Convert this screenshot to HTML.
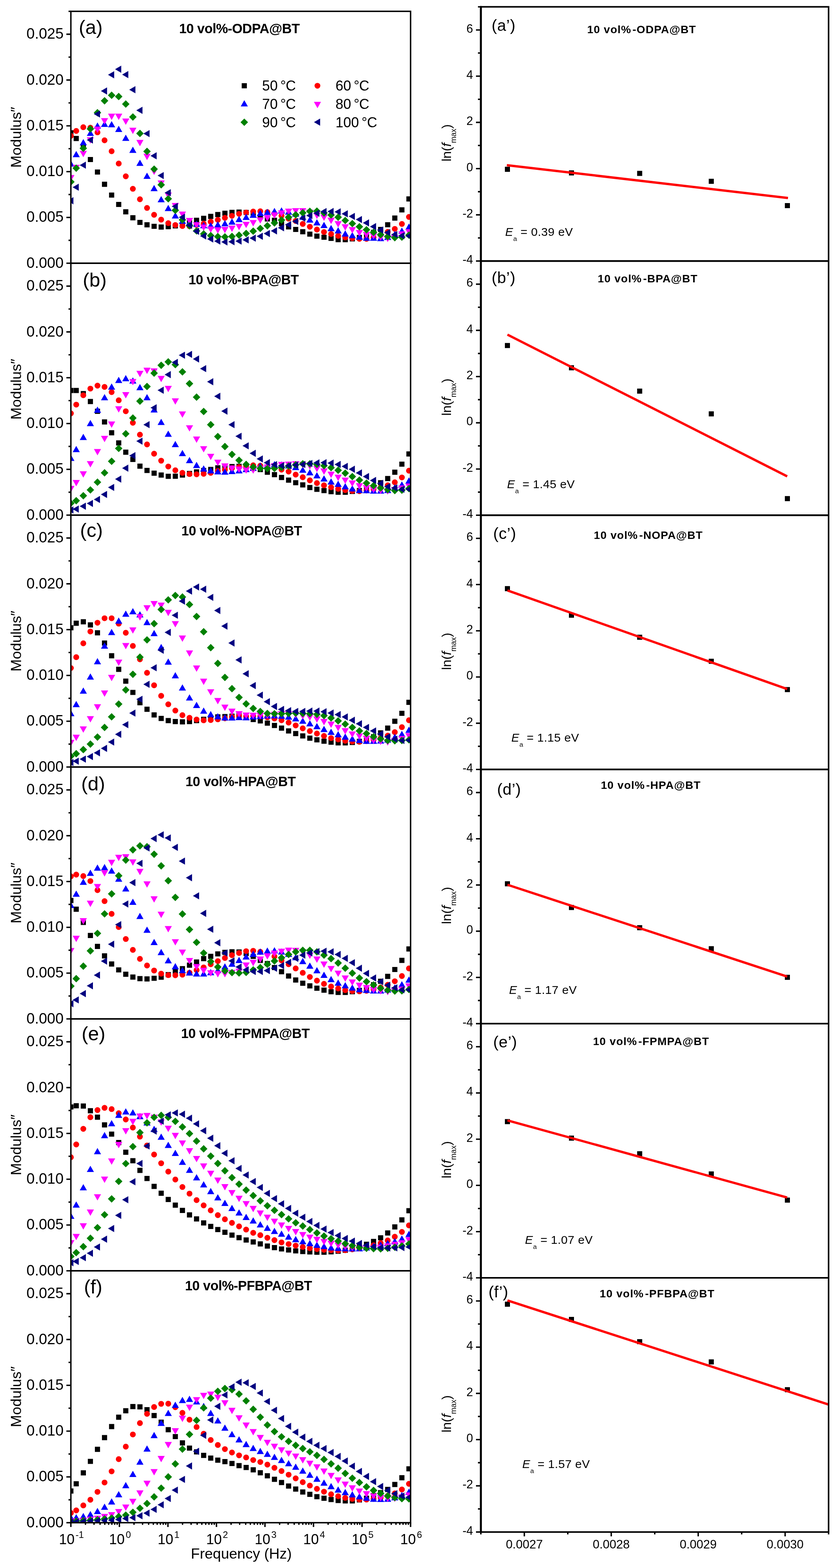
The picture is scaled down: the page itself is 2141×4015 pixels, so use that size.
<!DOCTYPE html>
<html><head><meta charset="utf-8"><style>html,body{margin:0;padding:0;background:#fff;}</style></head>
<body><svg width="2141" height="4015" viewBox="0 0 2141 4015" style="display:block;font-family:'Liberation Sans',Arial,sans-serif">
<rect x="0" y="0" width="2141" height="4015" fill="#fff"/>
<path d="M170.0,674.0H181.5M175.5,615.4H181.5M170.0,556.7H181.5M175.5,498.1H181.5M170.0,439.5H181.5M175.5,380.8H181.5M170.0,322.2H181.5M175.5,263.5H181.5M170.0,204.9H181.5M175.5,146.3H181.5M170.0,87.6H181.5M175.5,29.0H181.5M175.5,29.0H181.5M170.0,1319.0H181.5M175.5,1260.4H181.5M170.0,1201.7H181.5M175.5,1143.1H181.5M170.0,1084.5H181.5M175.5,1025.8H181.5M170.0,967.2H181.5M175.5,908.5H181.5M170.0,849.9H181.5M175.5,791.3H181.5M170.0,732.6H181.5M175.5,674.0H181.5M175.5,674.0H181.5M170.0,1964.0H181.5M175.5,1905.4H181.5M170.0,1846.7H181.5M175.5,1788.1H181.5M170.0,1729.5H181.5M175.5,1670.8H181.5M170.0,1612.2H181.5M175.5,1553.5H181.5M170.0,1494.9H181.5M175.5,1436.3H181.5M170.0,1377.6H181.5M175.5,1319.0H181.5M175.5,1319.0H181.5M170.0,2609.0H181.5M175.5,2550.4H181.5M170.0,2491.7H181.5M175.5,2433.1H181.5M170.0,2374.5H181.5M175.5,2315.8H181.5M170.0,2257.2H181.5M175.5,2198.5H181.5M170.0,2139.9H181.5M175.5,2081.3H181.5M170.0,2022.6H181.5M175.5,1964.0H181.5M175.5,1964.0H181.5M170.0,3254.0H181.5M175.5,3195.4H181.5M170.0,3136.7H181.5M175.5,3078.1H181.5M170.0,3019.5H181.5M175.5,2960.8H181.5M170.0,2902.2H181.5M175.5,2843.5H181.5M170.0,2784.9H181.5M175.5,2726.3H181.5M170.0,2667.6H181.5M175.5,2609.0H181.5M175.5,2609.0H181.5M170.0,3899.0H181.5M175.5,3840.4H181.5M170.0,3781.7H181.5M175.5,3723.1H181.5M170.0,3664.5H181.5M175.5,3605.8H181.5M170.0,3547.2H181.5M175.5,3488.5H181.5M170.0,3429.9H181.5M175.5,3371.3H181.5M170.0,3312.6H181.5M175.5,3254.0H181.5M175.5,3254.0H181.5M181.5,3899.0V3910.0M218.9,3899.0V3904.5M240.8,3899.0V3904.5M256.3,3899.0V3904.5M268.4,3899.0V3904.5M278.2,3899.0V3904.5M286.5,3899.0V3904.5M293.7,3899.0V3904.5M300.1,3899.0V3904.5M305.8,3899.0V3910.0M343.2,3899.0V3904.5M365.1,3899.0V3904.5M380.6,3899.0V3904.5M392.7,3899.0V3904.5M402.5,3899.0V3904.5M410.8,3899.0V3904.5M418.0,3899.0V3904.5M424.4,3899.0V3904.5M430.1,3899.0V3910.0M467.5,3899.0V3904.5M489.4,3899.0V3904.5M504.9,3899.0V3904.5M516.9,3899.0V3904.5M526.8,3899.0V3904.5M535.1,3899.0V3904.5M542.3,3899.0V3904.5M548.7,3899.0V3904.5M554.4,3899.0V3910.0M591.8,3899.0V3904.5M613.7,3899.0V3904.5M629.2,3899.0V3904.5M641.2,3899.0V3904.5M651.1,3899.0V3904.5M659.4,3899.0V3904.5M666.6,3899.0V3904.5M673.0,3899.0V3904.5M678.6,3899.0V3910.0M716.1,3899.0V3904.5M737.9,3899.0V3904.5M753.5,3899.0V3904.5M765.5,3899.0V3904.5M775.4,3899.0V3904.5M783.7,3899.0V3904.5M790.9,3899.0V3904.5M797.2,3899.0V3904.5M802.9,3899.0V3910.0M840.3,3899.0V3904.5M862.2,3899.0V3904.5M877.8,3899.0V3904.5M889.8,3899.0V3904.5M899.6,3899.0V3904.5M908.0,3899.0V3904.5M915.2,3899.0V3904.5M921.5,3899.0V3904.5M927.2,3899.0V3910.0M964.6,3899.0V3904.5M986.5,3899.0V3904.5M1002.0,3899.0V3904.5M1014.1,3899.0V3904.5M1023.9,3899.0V3904.5M1032.2,3899.0V3904.5M1039.5,3899.0V3904.5M1045.8,3899.0V3904.5M1051.5,3899.0V3910.0" stroke="#000" stroke-width="3.6" fill="none"/>
<path d="M1219.0,668.4H1231.5M1224.0,609.2H1231.5M1219.0,550.1H1231.5M1224.0,490.9H1231.5M1219.0,431.7H1231.5M1224.0,372.5H1231.5M1219.0,313.4H1231.5M1224.0,254.2H1231.5M1219.0,195.0H1231.5M1224.0,135.8H1231.5M1219.0,76.7H1231.5M1224.0,17.5H1231.5M1219.0,1319.3H1231.5M1224.0,1260.1H1231.5M1219.0,1201.0H1231.5M1224.0,1141.8H1231.5M1219.0,1082.6H1231.5M1224.0,1023.4H1231.5M1219.0,964.3H1231.5M1224.0,905.1H1231.5M1219.0,845.9H1231.5M1224.0,786.7H1231.5M1219.0,727.6H1231.5M1224.0,668.4H1231.5M1219.0,1970.2H1231.5M1224.0,1911.0H1231.5M1219.0,1851.9H1231.5M1224.0,1792.7H1231.5M1219.0,1733.5H1231.5M1224.0,1674.3H1231.5M1219.0,1615.2H1231.5M1224.0,1556.0H1231.5M1219.0,1496.8H1231.5M1224.0,1437.6H1231.5M1219.0,1378.5H1231.5M1224.0,1319.3H1231.5M1219.0,2621.1H1231.5M1224.0,2561.9H1231.5M1219.0,2502.8H1231.5M1224.0,2443.6H1231.5M1219.0,2384.4H1231.5M1224.0,2325.2H1231.5M1219.0,2266.1H1231.5M1224.0,2206.9H1231.5M1219.0,2147.7H1231.5M1224.0,2088.5H1231.5M1219.0,2029.4H1231.5M1224.0,1970.2H1231.5M1219.0,3272.0H1231.5M1224.0,3212.8H1231.5M1219.0,3153.7H1231.5M1224.0,3094.5H1231.5M1219.0,3035.3H1231.5M1224.0,2976.1H1231.5M1219.0,2917.0H1231.5M1224.0,2857.8H1231.5M1219.0,2798.6H1231.5M1224.0,2739.4H1231.5M1219.0,2680.3H1231.5M1224.0,2621.1H1231.5M1219.0,3922.9H1231.5M1224.0,3863.7H1231.5M1219.0,3804.6H1231.5M1224.0,3745.4H1231.5M1219.0,3686.2H1231.5M1224.0,3627.0H1231.5M1219.0,3567.9H1231.5M1224.0,3508.7H1231.5M1219.0,3449.5H1231.5M1224.0,3390.3H1231.5M1219.0,3331.2H1231.5M1224.0,3272.0H1231.5M1231.5,3922.9V3928.9M1342.8,3922.9V3933.9M1454.1,3922.9V3928.9M1565.4,3922.9V3933.9M1676.8,3922.9V3928.9M1788.1,3922.9V3933.9M1899.4,3922.9V3928.9M2010.7,3922.9V3933.9M2122.0,3922.9V3928.9" stroke="#000" stroke-width="3.6" fill="none"/>
<text x="67.8" y="685.7" font-size="38" text-anchor="start" font-weight="normal" >0.000</text>
<text x="67.8" y="568.4" font-size="38" text-anchor="start" font-weight="normal" >0.005</text>
<text x="67.8" y="451.2" font-size="38" text-anchor="start" font-weight="normal" >0.010</text>
<text x="67.8" y="333.9" font-size="38" text-anchor="start" font-weight="normal" >0.015</text>
<text x="67.8" y="216.6" font-size="38" text-anchor="start" font-weight="normal" >0.020</text>
<text x="67.8" y="99.3" font-size="38" text-anchor="start" font-weight="normal" >0.025</text>
<text x="67.8" y="1330.7" font-size="38" text-anchor="start" font-weight="normal" >0.000</text>
<text x="67.8" y="1213.4" font-size="38" text-anchor="start" font-weight="normal" >0.005</text>
<text x="67.8" y="1096.2" font-size="38" text-anchor="start" font-weight="normal" >0.010</text>
<text x="67.8" y="978.9" font-size="38" text-anchor="start" font-weight="normal" >0.015</text>
<text x="67.8" y="861.6" font-size="38" text-anchor="start" font-weight="normal" >0.020</text>
<text x="67.8" y="744.3" font-size="38" text-anchor="start" font-weight="normal" >0.025</text>
<text x="67.8" y="1975.7" font-size="38" text-anchor="start" font-weight="normal" >0.000</text>
<text x="67.8" y="1858.4" font-size="38" text-anchor="start" font-weight="normal" >0.005</text>
<text x="67.8" y="1741.2" font-size="38" text-anchor="start" font-weight="normal" >0.010</text>
<text x="67.8" y="1623.9" font-size="38" text-anchor="start" font-weight="normal" >0.015</text>
<text x="67.8" y="1506.6" font-size="38" text-anchor="start" font-weight="normal" >0.020</text>
<text x="67.8" y="1389.3" font-size="38" text-anchor="start" font-weight="normal" >0.025</text>
<text x="67.8" y="2620.7" font-size="38" text-anchor="start" font-weight="normal" >0.000</text>
<text x="67.8" y="2503.4" font-size="38" text-anchor="start" font-weight="normal" >0.005</text>
<text x="67.8" y="2386.2" font-size="38" text-anchor="start" font-weight="normal" >0.010</text>
<text x="67.8" y="2268.9" font-size="38" text-anchor="start" font-weight="normal" >0.015</text>
<text x="67.8" y="2151.6" font-size="38" text-anchor="start" font-weight="normal" >0.020</text>
<text x="67.8" y="2034.3" font-size="38" text-anchor="start" font-weight="normal" >0.025</text>
<text x="67.8" y="3265.7" font-size="38" text-anchor="start" font-weight="normal" >0.000</text>
<text x="67.8" y="3148.4" font-size="38" text-anchor="start" font-weight="normal" >0.005</text>
<text x="67.8" y="3031.2" font-size="38" text-anchor="start" font-weight="normal" >0.010</text>
<text x="67.8" y="2913.9" font-size="38" text-anchor="start" font-weight="normal" >0.015</text>
<text x="67.8" y="2796.6" font-size="38" text-anchor="start" font-weight="normal" >0.020</text>
<text x="67.8" y="2679.3" font-size="38" text-anchor="start" font-weight="normal" >0.025</text>
<text x="67.8" y="3910.7" font-size="38" text-anchor="start" font-weight="normal" >0.000</text>
<text x="67.8" y="3793.4" font-size="38" text-anchor="start" font-weight="normal" >0.005</text>
<text x="67.8" y="3676.2" font-size="38" text-anchor="start" font-weight="normal" >0.010</text>
<text x="67.8" y="3558.9" font-size="38" text-anchor="start" font-weight="normal" >0.015</text>
<text x="67.8" y="3441.6" font-size="38" text-anchor="start" font-weight="normal" >0.020</text>
<text x="67.8" y="3324.3" font-size="38" text-anchor="start" font-weight="normal" >0.025</text>
<text x="183.0" y="3954" font-size="36" text-anchor="middle">10<tspan font-size="24" dx="2.5" dy="-16">-1</tspan></text>
<text x="307.3" y="3954" font-size="36" text-anchor="middle">10<tspan font-size="24" dx="2.5" dy="-16">0</tspan></text>
<text x="431.6" y="3954" font-size="36" text-anchor="middle">10<tspan font-size="24" dx="2.5" dy="-16">1</tspan></text>
<text x="555.9" y="3954" font-size="36" text-anchor="middle">10<tspan font-size="24" dx="2.5" dy="-16">2</tspan></text>
<text x="680.1" y="3954" font-size="36" text-anchor="middle">10<tspan font-size="24" dx="2.5" dy="-16">3</tspan></text>
<text x="804.4" y="3954" font-size="36" text-anchor="middle">10<tspan font-size="24" dx="2.5" dy="-16">4</tspan></text>
<text x="928.7" y="3954" font-size="36" text-anchor="middle">10<tspan font-size="24" dx="2.5" dy="-16">5</tspan></text>
<text x="1053.0" y="3954" font-size="36" text-anchor="middle">10<tspan font-size="24" dx="2.5" dy="-16">6</tspan></text>
<text x="488.8" y="3991.0" font-size="37.5" text-anchor="start" font-weight="normal" >Frequency (Hz)</text>
<text x="1211.5" y="675.2" font-size="30.5" text-anchor="end" font-weight="normal" >-4</text>
<text x="1211.5" y="556.9" font-size="30.5" text-anchor="end" font-weight="normal" >-2</text>
<text x="1211.5" y="438.5" font-size="30.5" text-anchor="end" font-weight="normal" >0</text>
<text x="1211.5" y="320.2" font-size="30.5" text-anchor="end" font-weight="normal" >2</text>
<text x="1211.5" y="201.8" font-size="30.5" text-anchor="end" font-weight="normal" >4</text>
<text x="1211.5" y="83.5" font-size="30.5" text-anchor="end" font-weight="normal" >6</text>
<text x="1211.5" y="1326.1" font-size="30.5" text-anchor="end" font-weight="normal" >-4</text>
<text x="1211.5" y="1207.8" font-size="30.5" text-anchor="end" font-weight="normal" >-2</text>
<text x="1211.5" y="1089.4" font-size="30.5" text-anchor="end" font-weight="normal" >0</text>
<text x="1211.5" y="971.1" font-size="30.5" text-anchor="end" font-weight="normal" >2</text>
<text x="1211.5" y="852.7" font-size="30.5" text-anchor="end" font-weight="normal" >4</text>
<text x="1211.5" y="734.4" font-size="30.5" text-anchor="end" font-weight="normal" >6</text>
<text x="1211.5" y="1977.0" font-size="30.5" text-anchor="end" font-weight="normal" >-4</text>
<text x="1211.5" y="1858.7" font-size="30.5" text-anchor="end" font-weight="normal" >-2</text>
<text x="1211.5" y="1740.3" font-size="30.5" text-anchor="end" font-weight="normal" >0</text>
<text x="1211.5" y="1622.0" font-size="30.5" text-anchor="end" font-weight="normal" >2</text>
<text x="1211.5" y="1503.6" font-size="30.5" text-anchor="end" font-weight="normal" >4</text>
<text x="1211.5" y="1385.3" font-size="30.5" text-anchor="end" font-weight="normal" >6</text>
<text x="1211.5" y="2627.9" font-size="30.5" text-anchor="end" font-weight="normal" >-4</text>
<text x="1211.5" y="2509.6" font-size="30.5" text-anchor="end" font-weight="normal" >-2</text>
<text x="1211.5" y="2391.2" font-size="30.5" text-anchor="end" font-weight="normal" >0</text>
<text x="1211.5" y="2272.9" font-size="30.5" text-anchor="end" font-weight="normal" >2</text>
<text x="1211.5" y="2154.5" font-size="30.5" text-anchor="end" font-weight="normal" >4</text>
<text x="1211.5" y="2036.2" font-size="30.5" text-anchor="end" font-weight="normal" >6</text>
<text x="1211.5" y="3278.8" font-size="30.5" text-anchor="end" font-weight="normal" >-4</text>
<text x="1211.5" y="3160.5" font-size="30.5" text-anchor="end" font-weight="normal" >-2</text>
<text x="1211.5" y="3042.1" font-size="30.5" text-anchor="end" font-weight="normal" >0</text>
<text x="1211.5" y="2923.8" font-size="30.5" text-anchor="end" font-weight="normal" >2</text>
<text x="1211.5" y="2805.4" font-size="30.5" text-anchor="end" font-weight="normal" >4</text>
<text x="1211.5" y="2687.1" font-size="30.5" text-anchor="end" font-weight="normal" >6</text>
<text x="1211.5" y="3929.7" font-size="30.5" text-anchor="end" font-weight="normal" >-4</text>
<text x="1211.5" y="3811.4" font-size="30.5" text-anchor="end" font-weight="normal" >-2</text>
<text x="1211.5" y="3693.0" font-size="30.5" text-anchor="end" font-weight="normal" >0</text>
<text x="1211.5" y="3574.7" font-size="30.5" text-anchor="end" font-weight="normal" >2</text>
<text x="1211.5" y="3456.3" font-size="30.5" text-anchor="end" font-weight="normal" >4</text>
<text x="1211.5" y="3338.0" font-size="30.5" text-anchor="end" font-weight="normal" >6</text>
<text x="1342.8" y="3965.0" font-size="31" text-anchor="middle" font-weight="normal" >0.0027</text>
<text x="1565.4" y="3965.0" font-size="31" text-anchor="middle" font-weight="normal" >0.0028</text>
<text x="1788.1" y="3965.0" font-size="31" text-anchor="middle" font-weight="normal" >0.0029</text>
<text x="2010.7" y="3965.0" font-size="31" text-anchor="middle" font-weight="normal" >0.0030</text>
<text x="201.8" y="86.9" font-size="50" text-anchor="start" font-weight="normal" >(a)</text>
<text x="212.0" y="733.9" font-size="50" text-anchor="start" font-weight="normal" >(b)</text>
<text x="205.0" y="1374.8" font-size="50" text-anchor="start" font-weight="normal" >(c)</text>
<text x="208.0" y="2023.9" font-size="50" text-anchor="start" font-weight="normal" >(d)</text>
<text x="208.9" y="2663.9" font-size="50" text-anchor="start" font-weight="normal" >(e)</text>
<text x="214.9" y="3311.8" font-size="50" text-anchor="start" font-weight="normal" >(f)</text>
<text x="458.7" y="84.9" font-size="34.5" font-weight="bold" letter-spacing="-0.55">10 vol%-ODPA@BT</text>
<text x="482.7" y="727.9" font-size="34.5" font-weight="bold" letter-spacing="-0.55">10 vol%-BPA@BT</text>
<text x="464.6" y="1370.9" font-size="34.5" font-weight="bold" letter-spacing="-0.55">10 vol%-NOPA@BT</text>
<text x="474.9" y="2012.9" font-size="34.5" font-weight="bold" letter-spacing="-0.55">10 vol%-HPA@BT</text>
<text x="463.7" y="2658" font-size="34.5" font-weight="bold" letter-spacing="-0.55">10 vol%-FPMPA@BT</text>
<text x="473.7" y="3304" font-size="34.5" font-weight="bold" letter-spacing="-0.55">10 vol%-PFBPA@BT</text>
<text transform="translate(54,351.5) rotate(-90)" font-size="37.7" text-anchor="middle">Modulus&#8243;</text>
<text transform="translate(54,996.5) rotate(-90)" font-size="37.7" text-anchor="middle">Modulus&#8243;</text>
<text transform="translate(54,1641.5) rotate(-90)" font-size="37.7" text-anchor="middle">Modulus&#8243;</text>
<text transform="translate(54,2286.5) rotate(-90)" font-size="37.7" text-anchor="middle">Modulus&#8243;</text>
<text transform="translate(54,2931.5) rotate(-90)" font-size="37.7" text-anchor="middle">Modulus&#8243;</text>
<text transform="translate(54,3576.5) rotate(-90)" font-size="37.7" text-anchor="middle">Modulus&#8243;</text>
<path fill="#000000" d="M619.0,213.0h13.2v13.2h-13.2z"/>
<text x="671.3" y="231.5" font-size="36" text-anchor="start" font-weight="normal" >50 <tspan dx="-3.3">&#176;</tspan><tspan dx="-0.6">C</tspan></text>
<path fill="#ff0000" d="M805.5,219.6a7.45,7.45 0 1,0 14.9,0a7.45,7.45 0 1,0 -14.9,0z"/>
<text x="859.3" y="231.5" font-size="36" text-anchor="start" font-weight="normal" >60 <tspan dx="-3.3">&#176;</tspan><tspan dx="-0.6">C</tspan></text>
<path fill="#0000ff" d="M625.6,256.4L634.8,272.4H616.5z"/>
<text x="671.3" y="278.5" font-size="36" text-anchor="start" font-weight="normal" >70 <tspan dx="-3.3">&#176;</tspan><tspan dx="-0.6">C</tspan></text>
<path fill="#ff00ff" d="M813.0,276.9L822.1,260.7H803.9z"/>
<text x="859.3" y="278.5" font-size="36" text-anchor="start" font-weight="normal" >80 <tspan dx="-3.3">&#176;</tspan><tspan dx="-0.6">C</tspan></text>
<path fill="#008000" d="M625.6,303.4L635.2,313.0L625.6,322.6L616.0,313.0z"/>
<text x="671.3" y="325.5" font-size="36" text-anchor="start" font-weight="normal" >90 <tspan dx="-3.3">&#176;</tspan><tspan dx="-0.6">C</tspan></text>
<path fill="#000080" d="M804.1,312.8L819.9,303.6V322.0z"/>
<text x="859.3" y="325.5" font-size="36" text-anchor="start" font-weight="normal" >100 <tspan dx="-3.3">&#176;</tspan><tspan dx="-0.6">C</tspan></text>
<text x="1258.9" y="78.9" font-size="41" letter-spacing="0.6">(a&#8217;)</text>
<text x="1258.9" y="724.9" font-size="41" letter-spacing="0.6">(b&#8217;)</text>
<text x="1263" y="1379.9" font-size="41" letter-spacing="0.6">(c&#8217;)</text>
<text x="1273" y="2034.8" font-size="41" letter-spacing="0.6">(d&#8217;)</text>
<text x="1263" y="2681.8" font-size="41" letter-spacing="0.6">(e&#8217;)</text>
<text x="1251" y="3321.8" font-size="41" letter-spacing="0.6">(f&#8217;)</text>
<text x="1503.7" y="84.5" font-size="28.3" font-weight="bold" letter-spacing="1.1">10 vol%<tspan dx="3">-ODPA@BT</tspan></text>
<text x="1530.8" y="722.9" font-size="28.3" font-weight="bold" letter-spacing="1.1">10 vol%<tspan dx="3">-BPA@BT</tspan></text>
<text x="1520.8" y="1380" font-size="28.3" font-weight="bold" letter-spacing="1.1">10 vol%<tspan dx="3">-NOPA@BT</tspan></text>
<text x="1538.7" y="2020" font-size="28.3" font-weight="bold" letter-spacing="1.1">10 vol%<tspan dx="3">-HPA@BT</tspan></text>
<text x="1518.7" y="2675.9" font-size="28.3" font-weight="bold" letter-spacing="1.1">10 vol%<tspan dx="3">-FPMPA@BT</tspan></text>
<text x="1535.8" y="3322" font-size="28.3" font-weight="bold" letter-spacing="1.1">10 vol%<tspan dx="3">-PFBPA@BT</tspan></text>
<text x="1293.8" y="603.8" font-size="30.3" letter-spacing="0.4"><tspan font-style="italic">E</tspan><tspan font-size="17" dy="13">a</tspan><tspan dy="-13"> = 0.39 eV</tspan></text>
<text x="1298.6" y="1249.8" font-size="30.3" letter-spacing="0.4"><tspan font-style="italic">E</tspan><tspan font-size="17" dy="13">a</tspan><tspan dy="-13"> = 1.45 eV</tspan></text>
<text x="1309.6" y="1898.8" font-size="30.3" letter-spacing="0.4"><tspan font-style="italic">E</tspan><tspan font-size="17" dy="13">a</tspan><tspan dy="-13"> = 1.15 eV</tspan></text>
<text x="1303.8" y="2544.6" font-size="30.3" letter-spacing="0.4"><tspan font-style="italic">E</tspan><tspan font-size="17" dy="13">a</tspan><tspan dy="-13"> = 1.17 eV</tspan></text>
<text x="1344.6" y="3184.8" font-size="30.3" letter-spacing="0.4"><tspan font-style="italic">E</tspan><tspan font-size="17" dy="13">a</tspan><tspan dy="-13"> = 1.07 eV</tspan></text>
<text x="1337.4" y="3758.8" font-size="30.3" letter-spacing="0.4"><tspan font-style="italic">E</tspan><tspan font-size="17" dy="13">a</tspan><tspan dy="-13"> = 1.57 eV</tspan></text>
<text transform="translate(1154.5,365.9) rotate(-90)" font-size="34" text-anchor="middle">ln(<tspan font-style="italic">f</tspan><tspan font-size="19.5" dy="13">max</tspan><tspan dy="-13">)</tspan></text>
<text transform="translate(1154.5,1016.8) rotate(-90)" font-size="34" text-anchor="middle">ln(<tspan font-style="italic">f</tspan><tspan font-size="19.5" dy="13">max</tspan><tspan dy="-13">)</tspan></text>
<text transform="translate(1154.5,1667.8) rotate(-90)" font-size="34" text-anchor="middle">ln(<tspan font-style="italic">f</tspan><tspan font-size="19.5" dy="13">max</tspan><tspan dy="-13">)</tspan></text>
<text transform="translate(1154.5,2318.6) rotate(-90)" font-size="34" text-anchor="middle">ln(<tspan font-style="italic">f</tspan><tspan font-size="19.5" dy="13">max</tspan><tspan dy="-13">)</tspan></text>
<text transform="translate(1154.5,2969.5) rotate(-90)" font-size="34" text-anchor="middle">ln(<tspan font-style="italic">f</tspan><tspan font-size="19.5" dy="13">max</tspan><tspan dy="-13">)</tspan></text>
<text transform="translate(1154.5,3620.4) rotate(-90)" font-size="34" text-anchor="middle">ln(<tspan font-style="italic">f</tspan><tspan font-size="19.5" dy="13">max</tspan><tspan dy="-13">)</tspan></text>
<path fill="#000" d="M1293.0,426.9h13v13h-13zM1457.0,436.3h13v13h-13zM1631.7,437.6h13v13h-13zM1815.1,457.7h13v13h-13zM2010.0,519.9h13v13h-13zM1293.0,878.3h13v13h-13zM1457.0,935.3h13v13h-13zM1631.7,994.9h13v13h-13zM1815.1,1053.2h13v13h-13zM2010.0,1270.2h13v13h-13zM1293.0,1500.8h13v13h-13zM1457.0,1568.8h13v13h-13zM1631.7,1625.2h13v13h-13zM1815.1,1686.7h13v13h-13zM2010.0,1759.2h13v13h-13zM1293.0,2256.4h13v13h-13zM1457.0,2317.3h13v13h-13zM1631.7,2369.1h13v13h-13zM1815.1,2422.8h13v13h-13zM2010.0,2496.0h13v13h-13zM1293.0,2865.5h13v13h-13zM1457.0,2907.7h13v13h-13zM1631.7,2947.8h13v13h-13zM1815.1,2999.6h13v13h-13zM2010.0,3066.4h13v13h-13zM1293.0,3333.1h13v13h-13zM1457.0,3372.0h13v13h-13zM1631.7,3429.0h13v13h-13zM1815.1,3480.8h13v13h-13zM2010.0,3552.0h13v13h-13z"/>
<line x1="1298" y1="423" x2="2018" y2="507" stroke="#ff0000" stroke-width="6"/>
<line x1="1299.6" y1="856.9" x2="2016" y2="1219.7" stroke="#ff0000" stroke-width="6"/>
<line x1="1299.6" y1="1511.8" x2="2016" y2="1764.4" stroke="#ff0000" stroke-width="6"/>
<line x1="1299.6" y1="2265.5" x2="2016" y2="2500.6" stroke="#ff0000" stroke-width="6"/>
<line x1="1299.6" y1="2868.8" x2="2016" y2="3066.4" stroke="#ff0000" stroke-width="6"/>
<line x1="1299.6" y1="3329.9" x2="2121" y2="3596.1" stroke="#ff0000" stroke-width="6"/>
<defs>
<clipPath id="cl0"><rect x="181.5" y="29.0" width="870.0" height="645.0"/></clipPath>
<clipPath id="cl1"><rect x="181.5" y="674.0" width="870.0" height="645.0"/></clipPath>
<clipPath id="cl2"><rect x="181.5" y="1319.0" width="870.0" height="645.0"/></clipPath>
<clipPath id="cl3"><rect x="181.5" y="1964.0" width="870.0" height="645.0"/></clipPath>
<clipPath id="cl4"><rect x="181.5" y="2609.0" width="870.0" height="645.0"/></clipPath>
<clipPath id="cl5"><rect x="181.5" y="3254.0" width="870.0" height="645.0"/></clipPath>
</defs>
<g clip-path="url(#cl0)">
<path fill="#000000" d="M174.9,333.4h13.2v13.2h-13.2zM188.6,348.0h13.2v13.2h-13.2zM206.8,368.3h13.2v13.2h-13.2zM224.9,401.9h13.2v13.2h-13.2zM243.0,433.9h13.2v13.2h-13.2zM261.1,465.2h13.2v13.2h-13.2zM279.3,492.9h13.2v13.2h-13.2zM297.4,516.9h13.2v13.2h-13.2zM315.5,535.7h13.2v13.2h-13.2zM333.7,551.1h13.2v13.2h-13.2zM351.8,562.9h13.2v13.2h-13.2zM369.9,569.1h13.2v13.2h-13.2zM388.1,572.9h13.2v13.2h-13.2zM406.2,574.7h13.2v13.2h-13.2zM424.3,573.9h13.2v13.2h-13.2zM442.4,571.9h13.2v13.2h-13.2zM460.6,569.4h13.2v13.2h-13.2zM478.7,563.9h13.2v13.2h-13.2zM496.8,557.4h13.2v13.2h-13.2zM515.0,552.6h13.2v13.2h-13.2zM533.1,547.5h13.2v13.2h-13.2zM551.2,542.7h13.2v13.2h-13.2zM569.4,539.4h13.2v13.2h-13.2zM587.5,537.3h13.2v13.2h-13.2zM605.6,536.6h13.2v13.2h-13.2zM623.8,537.4h13.2v13.2h-13.2zM641.9,542.4h13.2v13.2h-13.2zM660.0,548.7h13.2v13.2h-13.2zM678.1,554.0h13.2v13.2h-13.2zM696.3,557.4h13.2v13.2h-13.2zM714.4,566.4h13.2v13.2h-13.2zM732.5,574.4h13.2v13.2h-13.2zM750.7,580.9h13.2v13.2h-13.2zM768.8,586.8h13.2v13.2h-13.2zM786.9,592.9h13.2v13.2h-13.2zM805.0,598.0h13.2v13.2h-13.2zM823.2,600.9h13.2v13.2h-13.2zM841.3,603.8h13.2v13.2h-13.2zM859.4,607.1h13.2v13.2h-13.2zM877.6,607.1h13.2v13.2h-13.2zM895.7,605.0h13.2v13.2h-13.2zM913.8,601.4h13.2v13.2h-13.2zM932.0,596.4h13.2v13.2h-13.2zM950.1,588.4h13.2v13.2h-13.2zM968.2,580.9h13.2v13.2h-13.2zM986.3,568.9h13.2v13.2h-13.2zM1004.5,551.8h13.2v13.2h-13.2zM1022.6,530.7h13.2v13.2h-13.2zM1040.7,502.8h13.2v13.2h-13.2z"/>
<path fill="#ff0000" d="M174.1,347.7a7.45,7.45 0 1,0 14.9,0a7.45,7.45 0 1,0 -14.9,0zM187.8,335.2a7.45,7.45 0 1,0 14.9,0a7.45,7.45 0 1,0 -14.9,0zM205.9,325.8a7.45,7.45 0 1,0 14.9,0a7.45,7.45 0 1,0 -14.9,0zM224.0,326.9a7.45,7.45 0 1,0 14.9,0a7.45,7.45 0 1,0 -14.9,0zM242.2,338.9a7.45,7.45 0 1,0 14.9,0a7.45,7.45 0 1,0 -14.9,0zM260.3,359.2a7.45,7.45 0 1,0 14.9,0a7.45,7.45 0 1,0 -14.9,0zM278.4,387.2a7.45,7.45 0 1,0 14.9,0a7.45,7.45 0 1,0 -14.9,0zM296.6,418.8a7.45,7.45 0 1,0 14.9,0a7.45,7.45 0 1,0 -14.9,0zM314.7,451.5a7.45,7.45 0 1,0 14.9,0a7.45,7.45 0 1,0 -14.9,0zM332.8,483.4a7.45,7.45 0 1,0 14.9,0a7.45,7.45 0 1,0 -14.9,0zM350.9,510.2a7.45,7.45 0 1,0 14.9,0a7.45,7.45 0 1,0 -14.9,0zM369.1,532.4a7.45,7.45 0 1,0 14.9,0a7.45,7.45 0 1,0 -14.9,0zM387.2,550.0a7.45,7.45 0 1,0 14.9,0a7.45,7.45 0 1,0 -14.9,0zM405.3,562.4a7.45,7.45 0 1,0 14.9,0a7.45,7.45 0 1,0 -14.9,0zM423.5,571.4a7.45,7.45 0 1,0 14.9,0a7.45,7.45 0 1,0 -14.9,0zM441.6,576.3a7.45,7.45 0 1,0 14.9,0a7.45,7.45 0 1,0 -14.9,0zM459.7,578.7a7.45,7.45 0 1,0 14.9,0a7.45,7.45 0 1,0 -14.9,0zM477.9,579.2a7.45,7.45 0 1,0 14.9,0a7.45,7.45 0 1,0 -14.9,0zM496.0,576.0a7.45,7.45 0 1,0 14.9,0a7.45,7.45 0 1,0 -14.9,0zM514.1,572.7a7.45,7.45 0 1,0 14.9,0a7.45,7.45 0 1,0 -14.9,0zM532.2,567.7a7.45,7.45 0 1,0 14.9,0a7.45,7.45 0 1,0 -14.9,0zM550.4,562.9a7.45,7.45 0 1,0 14.9,0a7.45,7.45 0 1,0 -14.9,0zM568.5,557.8a7.45,7.45 0 1,0 14.9,0a7.45,7.45 0 1,0 -14.9,0zM586.6,552.6a7.45,7.45 0 1,0 14.9,0a7.45,7.45 0 1,0 -14.9,0zM604.8,547.6a7.45,7.45 0 1,0 14.9,0a7.45,7.45 0 1,0 -14.9,0zM622.9,544.3a7.45,7.45 0 1,0 14.9,0a7.45,7.45 0 1,0 -14.9,0zM641.0,541.7a7.45,7.45 0 1,0 14.9,0a7.45,7.45 0 1,0 -14.9,0zM659.2,541.0a7.45,7.45 0 1,0 14.9,0a7.45,7.45 0 1,0 -14.9,0zM677.3,543.1a7.45,7.45 0 1,0 14.9,0a7.45,7.45 0 1,0 -14.9,0zM695.4,547.0a7.45,7.45 0 1,0 14.9,0a7.45,7.45 0 1,0 -14.9,0zM713.5,552.6a7.45,7.45 0 1,0 14.9,0a7.45,7.45 0 1,0 -14.9,0zM731.7,559.9a7.45,7.45 0 1,0 14.9,0a7.45,7.45 0 1,0 -14.9,0zM749.8,565.7a7.45,7.45 0 1,0 14.9,0a7.45,7.45 0 1,0 -14.9,0zM767.9,573.4a7.45,7.45 0 1,0 14.9,0a7.45,7.45 0 1,0 -14.9,0zM786.1,580.6a7.45,7.45 0 1,0 14.9,0a7.45,7.45 0 1,0 -14.9,0zM804.2,587.8a7.45,7.45 0 1,0 14.9,0a7.45,7.45 0 1,0 -14.9,0zM822.3,594.1a7.45,7.45 0 1,0 14.9,0a7.45,7.45 0 1,0 -14.9,0zM840.5,599.2a7.45,7.45 0 1,0 14.9,0a7.45,7.45 0 1,0 -14.9,0zM858.6,604.0a7.45,7.45 0 1,0 14.9,0a7.45,7.45 0 1,0 -14.9,0zM876.7,607.9a7.45,7.45 0 1,0 14.9,0a7.45,7.45 0 1,0 -14.9,0zM894.8,610.1a7.45,7.45 0 1,0 14.9,0a7.45,7.45 0 1,0 -14.9,0zM913.0,611.6a7.45,7.45 0 1,0 14.9,0a7.45,7.45 0 1,0 -14.9,0zM931.1,611.6a7.45,7.45 0 1,0 14.9,0a7.45,7.45 0 1,0 -14.9,0zM949.2,608.0a7.45,7.45 0 1,0 14.9,0a7.45,7.45 0 1,0 -14.9,0zM967.4,602.0a7.45,7.45 0 1,0 14.9,0a7.45,7.45 0 1,0 -14.9,0zM985.5,593.7a7.45,7.45 0 1,0 14.9,0a7.45,7.45 0 1,0 -14.9,0zM1003.6,586.1a7.45,7.45 0 1,0 14.9,0a7.45,7.45 0 1,0 -14.9,0zM1021.8,573.4a7.45,7.45 0 1,0 14.9,0a7.45,7.45 0 1,0 -14.9,0zM1039.9,555.5a7.45,7.45 0 1,0 14.9,0a7.45,7.45 0 1,0 -14.9,0z"/>
<path fill="#0000ff" d="M181.5,410.6L190.7,426.6H172.3zM195.2,386.5L204.4,402.5H186.1zM213.4,356.0L222.5,372.0H204.2zM231.5,332.0L240.6,348.0H222.3zM249.6,313.4L258.8,329.4H240.5zM267.8,309.0L276.9,325.0H258.6zM285.9,310.1L295.0,326.1H276.7zM304.0,322.1L313.2,338.1H294.9zM322.1,344.7L331.3,360.7H313.0zM340.3,375.4L349.4,391.4H331.1zM358.4,408.7L367.5,424.7H349.2zM376.5,442.0L385.7,458.0H367.4zM394.7,473.5L403.8,489.5H385.5zM412.8,502.0L421.9,518.0H403.6zM430.9,524.6L440.1,540.6H421.8zM449.0,543.4L458.2,559.4H439.9zM467.2,557.0L476.3,573.0H458.0zM485.3,561.5L494.5,577.5H476.2zM503.4,564.7L512.6,580.7H494.3zM521.6,568.6L530.7,584.6H512.4zM539.7,569.0L548.8,585.0H530.5zM557.8,566.4L567.0,582.4H548.7zM576.0,563.6L585.1,579.6H566.8zM594.1,559.2L603.2,575.2H584.9zM612.2,552.7L621.4,568.7H603.1zM630.4,547.2L639.5,563.2H621.2zM648.5,541.8L657.6,557.8H639.3zM666.6,537.3L675.8,553.3H657.5zM684.7,534.4L693.9,550.4H675.6zM702.9,532.2L712.0,548.2H693.7zM721.0,530.8L730.1,546.8H711.9zM739.1,533.7L748.3,549.7H730.0zM757.3,539.0L766.4,555.0H748.1zM775.4,546.8L784.5,562.8H766.2zM793.5,554.1L802.7,570.1H784.4zM811.6,561.3L820.8,577.3H802.5zM829.8,567.9L838.9,583.9H820.6zM847.9,575.9L857.1,591.9H838.8zM866.0,581.7L875.2,597.7H856.9zM884.2,589.7L893.3,605.7H875.0zM902.3,594.1L911.4,610.1H893.1zM920.4,597.7L929.6,613.7H911.3zM938.6,600.6L947.7,616.6H929.4zM956.7,600.6L965.8,616.6H947.5zM974.8,601.4L984.0,617.4H965.7zM992.9,598.5L1002.1,614.5H983.8zM1011.1,591.2L1020.2,607.2H1001.9zM1029.2,582.5L1038.4,598.5H1020.1zM1047.3,572.3L1056.5,588.3H1038.2z"/>
<path fill="#ff00ff" d="M181.5,464.5L190.7,448.3H172.3zM195.2,438.1L204.4,421.9H186.1zM213.4,402.6L222.5,386.4H204.2zM231.5,367.7L240.6,351.5H222.3zM249.6,340.4L258.8,324.2H240.5zM267.8,318.6L276.9,302.4H258.6zM285.9,307.2L295.0,291.0H276.7zM304.0,307.2L313.2,291.0H294.9zM322.1,319.7L331.3,303.5H313.0zM340.3,343.3L349.4,327.1H331.1zM358.4,374.5L367.5,358.3H349.2zM376.5,409.9L385.7,393.7H367.4zM394.7,447.9L403.8,431.7H385.5zM412.8,478.1L421.9,461.9H403.6zM430.9,509.3L440.1,493.1H421.8zM449.0,536.0L458.2,519.8H439.9zM467.2,557.9L476.3,541.7H458.0zM485.3,574.2L494.5,558.0H476.2zM503.4,585.1L512.6,568.9H494.3zM521.6,591.3L530.7,575.1H512.4zM539.7,596.1L548.8,579.9H530.5zM557.8,598.3L567.0,582.1H548.7zM576.0,597.1L585.1,580.9H566.8zM594.1,593.9L603.2,577.7H584.9zM612.2,589.5L621.4,573.3H603.1zM630.4,584.1L639.5,567.9H621.2zM648.5,579.7L657.6,563.5H639.3zM666.6,572.6L675.8,556.4H657.5zM684.7,567.3L693.9,551.1H675.6zM702.9,560.0L712.0,543.8H693.7zM721.0,554.9L730.1,538.7H711.9zM739.1,550.5L748.3,534.3H730.0zM757.3,549.1L766.4,532.9H748.1zM775.4,549.1L784.5,532.9H766.2zM793.5,553.1L802.7,536.9H784.4zM811.6,560.7L820.8,544.5H802.5zM829.8,565.8L838.9,549.6H820.6zM847.9,573.8L857.1,557.6H838.8zM866.0,582.5L875.2,566.3H856.9zM884.2,590.5L893.3,574.3H875.0zM902.3,597.8L911.4,581.6H893.1zM920.4,605.1L929.6,588.9H911.3zM938.6,610.2L947.7,594.0H929.4zM956.7,613.1L965.8,596.9H947.5zM974.8,616.7L984.0,600.5H965.7zM992.9,619.7L1002.1,603.5H983.8zM1011.1,618.2L1020.2,602.0H1001.9zM1029.2,608.7L1038.4,592.5H1020.1zM1047.3,602.9L1056.5,586.7H1038.2z"/>
<path fill="#008000" d="M181.5,456.1L191.1,465.7L181.5,475.3L171.9,465.7zM195.2,421.0L204.8,430.6L195.2,440.2L185.6,430.6zM213.4,370.1L223.0,379.7L213.4,389.3L203.8,379.7zM231.5,320.5L241.1,330.1L231.5,339.7L221.9,330.1zM249.6,279.0L259.2,288.6L249.6,298.2L240.0,288.6zM267.8,248.5L277.4,258.1L267.8,267.7L258.1,258.1zM285.9,234.3L295.5,243.9L285.9,253.5L276.3,243.9zM304.0,237.6L313.6,247.2L304.0,256.8L294.4,247.2zM322.1,256.8L331.7,266.4L322.1,276.0L312.5,266.4zM340.3,290.0L349.9,299.6L340.3,309.2L330.7,299.6zM358.4,332.1L368.0,341.7L358.4,351.3L348.8,341.7zM376.5,378.1L386.1,387.7L376.5,397.3L366.9,387.7zM394.7,423.4L404.3,433.0L394.7,442.6L385.1,433.0zM412.8,463.6L422.4,473.2L412.8,482.8L403.2,473.2zM430.9,499.4L440.5,509.0L430.9,518.6L421.3,509.0zM449.0,528.8L458.6,538.4L449.0,548.0L439.4,538.4zM467.2,553.3L476.8,562.9L467.2,572.5L457.6,562.9zM485.3,568.5L494.9,578.1L485.3,587.7L475.7,578.1zM503.4,581.6L513.0,591.2L503.4,600.8L493.8,591.2zM521.6,589.3L531.2,598.9L521.6,608.5L512.0,598.9zM539.7,593.7L549.3,603.3L539.7,612.9L530.1,603.3zM557.8,596.3L567.4,605.9L557.8,615.5L548.2,605.9zM576.0,596.9L585.6,606.5L576.0,616.1L566.4,606.5zM594.1,595.8L603.7,605.4L594.1,615.0L584.5,605.4zM612.2,592.6L621.8,602.2L612.2,611.8L602.6,602.2zM630.4,588.2L640.0,597.8L630.4,607.4L620.8,597.8zM648.5,582.3L658.1,591.9L648.5,601.5L638.9,591.9zM666.6,575.4L676.2,585.0L666.6,594.6L657.0,585.0zM684.7,568.5L694.3,578.1L684.7,587.7L675.1,578.1zM702.9,561.2L712.5,570.8L702.9,580.4L693.3,570.8zM721.0,553.9L730.6,563.5L721.0,573.1L711.4,563.5zM739.1,546.6L748.7,556.2L739.1,565.8L729.5,556.2zM757.3,540.4L766.9,550.0L757.3,559.6L747.7,550.0zM775.4,535.3L785.0,544.9L775.4,554.5L765.8,544.9zM793.5,531.6L803.1,541.2L793.5,550.8L783.9,541.2zM811.6,530.9L821.2,540.5L811.6,550.1L802.0,540.5zM829.8,535.7L839.4,545.3L829.8,554.9L820.2,545.3zM847.9,540.8L857.5,550.4L847.9,560.0L838.3,550.4zM866.0,546.6L875.6,556.2L866.0,565.8L856.4,556.2zM884.2,554.9L893.8,564.5L884.2,574.1L874.6,564.5zM902.3,562.9L911.9,572.5L902.3,582.1L892.7,572.5zM920.4,571.0L930.0,580.6L920.4,590.2L910.8,580.6zM938.6,578.7L948.2,588.3L938.6,597.9L929.0,588.3zM956.7,585.2L966.3,594.8L956.7,604.4L947.1,594.8zM974.8,591.3L984.4,600.9L974.8,610.5L965.2,600.9zM992.9,596.1L1002.5,605.7L992.9,615.3L983.3,605.7zM1011.1,599.0L1020.7,608.6L1011.1,618.2L1001.5,608.6zM1029.2,597.6L1038.8,607.2L1029.2,616.8L1019.6,607.2zM1047.3,592.5L1056.9,602.1L1047.3,611.7L1037.7,602.1z"/>
<path fill="#000080" d="M172.2,514.0L188.0,504.8V523.2zM185.9,479.4L201.7,470.2V488.6zM204.1,422.9L219.9,413.7V432.1zM222.2,358.5L238.0,349.3V367.7zM240.3,291.9L256.1,282.7V301.1zM258.4,233.0L274.2,223.8V242.2zM276.6,191.5L292.4,182.3V200.7zM294.7,177.3L310.5,168.1V186.5zM312.8,191.0L328.6,181.8V200.2zM331.0,229.7L346.8,220.5V238.9zM349.1,282.5L364.9,273.3V291.7zM367.2,342.1L383.0,332.9V351.3zM385.4,399.0L401.2,389.8V408.2zM403.5,449.6L419.3,440.4V458.8zM421.6,493.5L437.4,484.3V502.7zM439.7,528.5L455.5,519.3V537.7zM457.9,556.3L473.7,547.1V565.5zM476.0,577.1L491.8,567.9V586.3zM494.1,592.3L509.9,583.1V601.5zM512.3,604.3L528.1,595.1V613.5zM530.4,612.0L546.2,602.8V621.2zM548.5,617.4L564.3,608.2V626.6zM566.7,619.6L582.5,610.4V628.8zM584.8,619.0L600.6,609.8V628.2zM602.9,617.4L618.7,608.2V626.6zM621.1,614.2L636.9,605.0V623.4zM639.2,609.8L655.0,600.6V619.0zM657.3,605.0L673.1,595.8V614.2zM675.4,598.0L691.2,588.8V607.2zM693.6,591.2L709.4,582.0V600.4zM711.7,583.2L727.5,574.0V592.4zM729.8,575.2L745.6,566.0V584.4zM748.0,566.9L763.8,557.7V576.1zM766.1,558.7L781.9,549.5V567.9zM784.2,551.9L800.0,542.7V561.1zM802.4,546.0L818.1,536.8V555.2zM820.5,541.7L836.3,532.5V550.9zM838.6,541.5L854.4,532.3V550.7zM856.7,542.4L872.5,533.2V551.6zM874.9,547.5L890.7,538.3V556.7zM893.0,554.1L908.8,544.9V563.3zM911.1,562.1L926.9,552.9V571.3zM929.3,570.8L945.1,561.6V580.0zM947.4,580.3L963.2,571.1V589.5zM965.5,589.0L981.3,579.8V598.2zM983.6,595.5L999.4,586.3V604.7zM1001.8,600.6L1017.6,591.4V609.8zM1019.9,603.5L1035.7,594.3V612.7zM1038.0,604.3L1053.8,595.1V613.5z"/>
</g>
<g clip-path="url(#cl1)">
<path fill="#000000" d="M174.9,993.3h13.2v13.2h-13.2zM188.6,993.3h13.2v13.2h-13.2zM206.8,1001.3h13.2v13.2h-13.2zM224.9,1021.5h13.2v13.2h-13.2zM243.0,1046.5h13.2v13.2h-13.2zM261.1,1073.7h13.2v13.2h-13.2zM279.3,1101.6h13.2v13.2h-13.2zM297.4,1127.5h13.2v13.2h-13.2zM315.5,1151.2h13.2v13.2h-13.2zM333.7,1169.8h13.2v13.2h-13.2zM351.8,1187.1h13.2v13.2h-13.2zM369.9,1198.0h13.2v13.2h-13.2zM388.1,1205.0h13.2v13.2h-13.2zM406.2,1209.8h13.2v13.2h-13.2zM424.3,1213.0h13.2v13.2h-13.2zM442.4,1212.7h13.2v13.2h-13.2zM460.6,1209.8h13.2v13.2h-13.2zM478.7,1205.7h13.2v13.2h-13.2zM496.8,1201.8h13.2v13.2h-13.2zM515.0,1198.3h13.2v13.2h-13.2zM533.1,1195.4h13.2v13.2h-13.2zM551.2,1191.2h13.2v13.2h-13.2zM569.4,1189.6h13.2v13.2h-13.2zM587.5,1188.0h13.2v13.2h-13.2zM605.6,1187.4h13.2v13.2h-13.2zM623.8,1189.2h13.2v13.2h-13.2zM641.9,1192.6h13.2v13.2h-13.2zM660.0,1195.9h13.2v13.2h-13.2zM678.1,1202.6h13.2v13.2h-13.2zM696.3,1208.7h13.2v13.2h-13.2zM714.4,1216.0h13.2v13.2h-13.2zM732.5,1222.7h13.2v13.2h-13.2zM750.7,1229.4h13.2v13.2h-13.2zM768.8,1235.1h13.2v13.2h-13.2zM786.9,1241.8h13.2v13.2h-13.2zM805.0,1246.2h13.2v13.2h-13.2zM823.2,1249.5h13.2v13.2h-13.2zM841.3,1252.2h13.2v13.2h-13.2zM859.4,1253.9h13.2v13.2h-13.2zM877.6,1253.9h13.2v13.2h-13.2zM895.7,1251.9h13.2v13.2h-13.2zM913.8,1249.5h13.2v13.2h-13.2zM932.0,1246.5h13.2v13.2h-13.2zM950.1,1241.1h13.2v13.2h-13.2zM968.2,1229.4h13.2v13.2h-13.2zM986.3,1218.7h13.2v13.2h-13.2zM1004.5,1202.6h13.2v13.2h-13.2zM1022.6,1181.9h13.2v13.2h-13.2zM1040.7,1155.8h13.2v13.2h-13.2z"/>
<path fill="#ff0000" d="M174.1,1058.5a7.45,7.45 0 1,0 14.9,0a7.45,7.45 0 1,0 -14.9,0zM187.8,1036.1a7.45,7.45 0 1,0 14.9,0a7.45,7.45 0 1,0 -14.9,0zM205.9,1012.1a7.45,7.45 0 1,0 14.9,0a7.45,7.45 0 1,0 -14.9,0zM224.0,995.1a7.45,7.45 0 1,0 14.9,0a7.45,7.45 0 1,0 -14.9,0zM242.2,987.5a7.45,7.45 0 1,0 14.9,0a7.45,7.45 0 1,0 -14.9,0zM260.3,990.7a7.45,7.45 0 1,0 14.9,0a7.45,7.45 0 1,0 -14.9,0zM278.4,1004.1a7.45,7.45 0 1,0 14.9,0a7.45,7.45 0 1,0 -14.9,0zM296.6,1024.9a7.45,7.45 0 1,0 14.9,0a7.45,7.45 0 1,0 -14.9,0zM314.7,1053.1a7.45,7.45 0 1,0 14.9,0a7.45,7.45 0 1,0 -14.9,0zM332.8,1082.6a7.45,7.45 0 1,0 14.9,0a7.45,7.45 0 1,0 -14.9,0zM350.9,1113.0a7.45,7.45 0 1,0 14.9,0a7.45,7.45 0 1,0 -14.9,0zM369.1,1138.0a7.45,7.45 0 1,0 14.9,0a7.45,7.45 0 1,0 -14.9,0zM387.2,1161.7a7.45,7.45 0 1,0 14.9,0a7.45,7.45 0 1,0 -14.9,0zM405.3,1179.6a7.45,7.45 0 1,0 14.9,0a7.45,7.45 0 1,0 -14.9,0zM423.5,1194.6a7.45,7.45 0 1,0 14.9,0a7.45,7.45 0 1,0 -14.9,0zM441.6,1204.3a7.45,7.45 0 1,0 14.9,0a7.45,7.45 0 1,0 -14.9,0zM459.7,1210.7a7.45,7.45 0 1,0 14.9,0a7.45,7.45 0 1,0 -14.9,0zM477.9,1213.9a7.45,7.45 0 1,0 14.9,0a7.45,7.45 0 1,0 -14.9,0zM496.0,1214.5a7.45,7.45 0 1,0 14.9,0a7.45,7.45 0 1,0 -14.9,0zM514.1,1213.2a7.45,7.45 0 1,0 14.9,0a7.45,7.45 0 1,0 -14.9,0zM532.2,1210.7a7.45,7.45 0 1,0 14.9,0a7.45,7.45 0 1,0 -14.9,0zM550.4,1205.9a7.45,7.45 0 1,0 14.9,0a7.45,7.45 0 1,0 -14.9,0zM568.5,1202.7a7.45,7.45 0 1,0 14.9,0a7.45,7.45 0 1,0 -14.9,0zM586.6,1198.8a7.45,7.45 0 1,0 14.9,0a7.45,7.45 0 1,0 -14.9,0zM604.8,1196.2a7.45,7.45 0 1,0 14.9,0a7.45,7.45 0 1,0 -14.9,0zM622.9,1192.8a7.45,7.45 0 1,0 14.9,0a7.45,7.45 0 1,0 -14.9,0zM641.0,1191.5a7.45,7.45 0 1,0 14.9,0a7.45,7.45 0 1,0 -14.9,0zM659.2,1192.5a7.45,7.45 0 1,0 14.9,0a7.45,7.45 0 1,0 -14.9,0zM677.3,1195.2a7.45,7.45 0 1,0 14.9,0a7.45,7.45 0 1,0 -14.9,0zM695.4,1198.2a7.45,7.45 0 1,0 14.9,0a7.45,7.45 0 1,0 -14.9,0zM713.5,1202.5a7.45,7.45 0 1,0 14.9,0a7.45,7.45 0 1,0 -14.9,0zM731.7,1207.6a7.45,7.45 0 1,0 14.9,0a7.45,7.45 0 1,0 -14.9,0zM749.8,1215.3a7.45,7.45 0 1,0 14.9,0a7.45,7.45 0 1,0 -14.9,0zM767.9,1222.0a7.45,7.45 0 1,0 14.9,0a7.45,7.45 0 1,0 -14.9,0zM786.1,1230.0a7.45,7.45 0 1,0 14.9,0a7.45,7.45 0 1,0 -14.9,0zM804.2,1237.0a7.45,7.45 0 1,0 14.9,0a7.45,7.45 0 1,0 -14.9,0zM822.3,1242.7a7.45,7.45 0 1,0 14.9,0a7.45,7.45 0 1,0 -14.9,0zM840.5,1247.7a7.45,7.45 0 1,0 14.9,0a7.45,7.45 0 1,0 -14.9,0zM858.6,1251.8a7.45,7.45 0 1,0 14.9,0a7.45,7.45 0 1,0 -14.9,0zM876.7,1255.1a7.45,7.45 0 1,0 14.9,0a7.45,7.45 0 1,0 -14.9,0zM894.8,1257.1a7.45,7.45 0 1,0 14.9,0a7.45,7.45 0 1,0 -14.9,0zM913.0,1257.8a7.45,7.45 0 1,0 14.9,0a7.45,7.45 0 1,0 -14.9,0zM931.1,1256.1a7.45,7.45 0 1,0 14.9,0a7.45,7.45 0 1,0 -14.9,0zM949.2,1252.8a7.45,7.45 0 1,0 14.9,0a7.45,7.45 0 1,0 -14.9,0zM967.4,1248.4a7.45,7.45 0 1,0 14.9,0a7.45,7.45 0 1,0 -14.9,0zM985.5,1242.7a7.45,7.45 0 1,0 14.9,0a7.45,7.45 0 1,0 -14.9,0zM1003.6,1235.0a7.45,7.45 0 1,0 14.9,0a7.45,7.45 0 1,0 -14.9,0zM1021.8,1222.6a7.45,7.45 0 1,0 14.9,0a7.45,7.45 0 1,0 -14.9,0zM1039.9,1205.2a7.45,7.45 0 1,0 14.9,0a7.45,7.45 0 1,0 -14.9,0z"/>
<path fill="#0000ff" d="M181.5,1164.2L190.7,1180.2H172.3zM195.2,1141.8L204.4,1157.8H186.1zM213.4,1110.8L222.5,1126.8H204.2zM231.5,1075.2L240.6,1091.2H222.3zM249.6,1040.9L258.8,1056.9H240.5zM267.8,1008.9L276.9,1024.9H258.6zM285.9,981.7L295.0,997.7H276.7zM304.0,964.7L313.2,980.7H294.9zM322.1,960.2L331.3,976.2H313.0zM340.3,966.3L349.4,982.3H331.1zM358.4,983.3L367.5,999.3H349.2zM376.5,1008.9L385.7,1024.9H367.4zM394.7,1040.3L403.8,1056.3H385.5zM412.8,1072.3L421.9,1088.3H403.6zM430.9,1102.4L440.1,1118.4H421.8zM449.0,1129.0L458.2,1145.0H439.9zM467.2,1152.1L476.3,1168.1H458.0zM485.3,1170.0L494.5,1186.0H476.2zM503.4,1182.5L512.6,1198.5H494.3zM521.6,1191.4L530.7,1207.4H512.4zM539.7,1196.3L548.8,1212.3H530.5zM557.8,1198.8L567.0,1214.8H548.7zM576.0,1199.5L585.1,1215.5H566.8zM594.1,1197.9L603.2,1213.9H584.9zM612.2,1196.3L621.4,1212.3H603.1zM630.4,1192.9L639.5,1208.9H621.2zM648.5,1189.5L657.6,1205.5H639.3zM666.6,1184.5L675.8,1200.5H657.5zM684.7,1182.8L693.9,1198.8H675.6zM702.9,1180.5L712.0,1196.5H693.7zM721.0,1181.2L730.1,1197.2H711.9zM739.1,1183.5L748.3,1199.5H730.0zM757.3,1187.8L766.4,1203.8H748.1zM775.4,1194.5L784.5,1210.5H766.2zM793.5,1201.2L802.7,1217.2H784.4zM811.6,1208.9L820.8,1224.9H802.5zM829.8,1217.0L838.9,1233.0H820.6zM847.9,1224.7L857.1,1240.7H838.8zM866.0,1230.7L875.2,1246.7H856.9zM884.2,1237.1L893.3,1253.1H875.0zM902.3,1242.4L911.4,1258.4H893.1zM920.4,1246.4L929.6,1262.4H911.3zM938.6,1247.1L947.7,1263.1H929.4zM956.7,1248.1L965.8,1264.1H947.5zM974.8,1248.1L984.0,1264.1H965.7zM992.9,1246.4L1002.1,1262.4H983.8zM1011.1,1239.7L1020.2,1255.7H1001.9zM1029.2,1232.4L1038.4,1248.4H1020.1zM1047.3,1222.3L1056.5,1238.3H1038.2z"/>
<path fill="#ff00ff" d="M181.5,1260.4L190.7,1244.2H172.3zM195.2,1245.3L204.4,1229.1H186.1zM213.4,1222.9L222.5,1206.7H204.2zM231.5,1197.0L240.6,1180.8H222.3zM249.6,1165.9L258.8,1149.7H240.5zM267.8,1132.3L276.9,1116.1H258.6zM285.9,1095.5L295.0,1079.3H276.7zM304.0,1056.4L313.2,1040.2H294.9zM322.1,1020.2L331.3,1004.0H313.0zM340.3,986.6L349.4,970.4H331.1zM358.4,965.8L367.5,949.6H349.2zM376.5,957.8L385.7,941.6H367.4zM394.7,959.4L403.8,943.2H385.5zM412.8,978.6L421.9,962.4H403.6zM430.9,1004.2L440.1,988.0H421.8zM449.0,1036.2L458.2,1020.0H439.9zM467.2,1069.8L476.3,1053.6H458.0zM485.3,1105.1L494.5,1088.9H476.2zM503.4,1133.9L512.6,1117.7H494.3zM521.6,1158.6L530.7,1142.4H512.4zM539.7,1178.1L548.8,1161.9H530.5zM557.8,1193.1L567.0,1176.9H548.7zM576.0,1202.7L585.1,1186.5H566.8zM594.1,1208.2L603.2,1192.0H584.9zM612.2,1210.8L621.4,1194.6H603.1zM630.4,1213.0L639.5,1196.8H621.2zM648.5,1213.0L657.6,1196.8H639.3zM666.6,1209.0L675.8,1192.8H657.5zM684.7,1205.6L693.9,1189.4H675.6zM702.9,1202.3L712.0,1186.1H693.7zM721.0,1198.9L730.1,1182.7H711.9zM739.1,1198.3L748.3,1182.1H730.0zM757.3,1197.3L766.4,1181.1H748.1zM775.4,1198.9L784.5,1182.7H766.2zM793.5,1202.3L802.7,1186.1H784.4zM811.6,1209.0L820.8,1192.8H802.5zM829.8,1215.7L838.9,1199.5H820.6zM847.9,1224.0L857.1,1207.8H838.8zM866.0,1231.7L875.2,1215.5H856.9zM884.2,1239.1L893.3,1222.9H875.0zM902.3,1246.5L911.4,1230.3H893.1zM920.4,1253.5L929.6,1237.3H911.3zM938.6,1258.5L947.7,1242.3H929.4zM956.7,1262.5L965.8,1246.3H947.5zM974.8,1265.2L984.0,1249.0H965.7zM992.9,1266.6L1002.1,1250.4H983.8zM1011.1,1263.2L1020.2,1247.0H1001.9zM1029.2,1259.2L1038.4,1243.0H1020.1zM1047.3,1254.2L1056.5,1238.0H1038.2z"/>
<path fill="#008000" d="M181.5,1278.9L191.1,1288.5L181.5,1298.1L171.9,1288.5zM195.2,1272.5L204.8,1282.1L195.2,1291.7L185.6,1282.1zM213.4,1259.7L223.0,1269.3L213.4,1278.9L203.8,1269.3zM231.5,1244.9L241.1,1254.5L231.5,1264.1L221.9,1254.5zM249.6,1225.1L259.2,1234.7L249.6,1244.3L240.0,1234.7zM267.8,1201.1L277.4,1210.7L267.8,1220.3L258.1,1210.7zM285.9,1171.6L295.5,1181.2L285.9,1190.8L276.3,1181.2zM304.0,1138.6L313.6,1148.2L304.0,1157.8L294.4,1148.2zM322.1,1101.1L331.7,1110.7L322.1,1120.3L312.5,1110.7zM340.3,1060.8L349.9,1070.4L340.3,1080.0L330.7,1070.4zM358.4,1017.6L368.0,1027.2L358.4,1036.8L348.8,1027.2zM376.5,980.1L386.1,989.7L376.5,999.3L366.9,989.7zM394.7,945.8L404.3,955.4L394.7,965.0L385.1,955.4zM412.8,925.7L422.4,935.3L412.8,944.9L403.2,935.3zM430.9,917.0L440.5,926.6L430.9,936.2L421.3,926.6zM449.0,924.1L458.6,933.7L449.0,943.3L439.4,933.7zM467.2,942.6L476.8,952.2L467.2,961.8L457.6,952.2zM485.3,972.7L494.9,982.3L485.3,991.9L475.7,982.3zM503.4,1007.3L513.0,1016.9L503.4,1026.5L493.8,1016.9zM521.6,1044.1L531.2,1053.7L521.6,1063.3L512.0,1053.7zM539.7,1077.8L549.3,1087.4L539.7,1097.0L530.1,1087.4zM557.8,1108.2L567.4,1117.8L557.8,1127.4L548.2,1117.8zM576.0,1133.8L585.6,1143.4L576.0,1153.0L566.4,1143.4zM594.1,1154.0L603.7,1163.6L594.1,1173.2L584.5,1163.6zM612.2,1169.0L621.8,1178.6L612.2,1188.2L602.6,1178.6zM630.4,1179.6L640.0,1189.2L630.4,1198.8L620.8,1189.2zM648.5,1186.2L658.1,1195.8L648.5,1205.4L638.9,1195.8zM666.6,1189.6L676.2,1199.2L666.6,1208.8L657.0,1199.2zM684.7,1190.3L694.3,1199.9L684.7,1209.5L675.1,1199.9zM702.9,1189.6L712.5,1199.2L702.9,1208.8L693.3,1199.2zM721.0,1187.3L730.6,1196.9L721.0,1206.5L711.4,1196.9zM739.1,1183.9L748.7,1193.5L739.1,1203.1L729.5,1193.5zM757.3,1180.6L766.9,1190.2L757.3,1199.8L747.7,1190.2zM775.4,1177.9L785.0,1187.5L775.4,1197.1L765.8,1187.5zM793.5,1177.9L803.1,1187.5L793.5,1197.1L783.9,1187.5zM811.6,1179.6L821.2,1189.2L811.6,1198.8L802.0,1189.2zM829.8,1182.9L839.4,1192.5L829.8,1202.1L820.2,1192.5zM847.9,1187.9L857.5,1197.5L847.9,1207.1L838.3,1197.5zM866.0,1194.6L875.6,1204.2L866.0,1213.8L856.4,1204.2zM884.2,1202.0L893.8,1211.6L884.2,1221.2L874.6,1211.6zM902.3,1210.7L911.9,1220.3L902.3,1229.9L892.7,1220.3zM920.4,1219.7L930.0,1229.3L920.4,1238.9L910.8,1229.3zM938.6,1227.4L948.2,1237.0L938.6,1246.6L929.0,1237.0zM956.7,1234.1L966.3,1243.7L956.7,1253.3L947.1,1243.7zM974.8,1239.8L984.4,1249.4L974.8,1259.0L965.2,1249.4zM992.9,1244.2L1002.5,1253.8L992.9,1263.4L983.3,1253.8zM1011.1,1246.5L1020.7,1256.1L1011.1,1265.7L1001.5,1256.1zM1029.2,1245.5L1038.8,1255.1L1029.2,1264.7L1019.6,1255.1zM1047.3,1241.5L1056.9,1251.1L1047.3,1260.7L1037.7,1251.1z"/>
<path fill="#000080" d="M172.2,1305.8L188.0,1296.6V1315.0zM185.9,1303.5L201.7,1294.3V1312.7zM204.1,1296.2L219.9,1287.0V1305.4zM222.2,1289.1L238.0,1279.9V1298.3zM240.3,1278.9L256.1,1269.7V1288.1zM258.4,1266.1L274.2,1256.9V1275.3zM276.6,1248.1L292.4,1238.9V1257.3zM294.7,1226.7L310.5,1217.5V1235.9zM312.8,1198.8L328.6,1189.6V1208.0zM331.0,1166.8L346.8,1157.6V1176.0zM349.1,1129.6L364.9,1120.4V1138.8zM367.2,1087.4L383.0,1078.2V1096.6zM385.4,1044.1L401.2,1034.9V1053.3zM403.5,999.3L419.3,990.1V1008.5zM421.6,959.3L437.4,950.1V968.5zM439.7,927.9L455.5,918.7V937.1zM457.9,909.6L473.7,900.4V918.8zM476.0,907.4L491.8,898.2V916.6zM494.1,919.2L509.9,910.0V928.4zM512.3,943.9L528.1,934.7V953.1zM530.4,977.5L546.2,968.3V986.7zM548.5,1014.7L564.3,1005.5V1023.9zM566.7,1052.8L582.5,1043.6V1062.0zM584.8,1087.4L600.6,1078.2V1096.6zM602.9,1117.1L618.7,1107.9V1126.3zM621.1,1141.6L636.9,1132.4V1150.8zM639.2,1160.7L655.0,1151.5V1169.9zM657.3,1175.1L673.1,1165.9V1184.3zM675.4,1184.8L691.2,1175.6V1194.0zM693.6,1189.8L709.4,1180.6V1199.0zM711.7,1192.5L727.5,1183.3V1201.7zM729.8,1192.5L745.6,1183.3V1201.7zM748.0,1190.8L763.8,1181.6V1200.0zM766.1,1189.2L781.9,1180.0V1198.4zM784.2,1186.8L800.0,1177.6V1196.0zM802.4,1185.1L818.1,1175.9V1194.3zM820.5,1184.8L836.3,1175.6V1194.0zM838.6,1185.8L854.4,1176.6V1195.0zM856.7,1189.2L872.5,1180.0V1198.4zM874.9,1194.2L890.7,1185.0V1203.4zM893.0,1201.5L908.8,1192.3V1210.7zM911.1,1210.9L926.9,1201.7V1220.1zM929.3,1220.3L945.1,1211.1V1229.5zM947.4,1230.3L963.2,1221.1V1239.5zM965.5,1237.7L981.3,1228.5V1246.9zM983.6,1246.1L999.4,1236.9V1255.3zM1001.8,1249.4L1017.6,1240.2V1258.6zM1019.9,1252.8L1035.7,1243.6V1262.0zM1038.0,1252.8L1053.8,1243.6V1262.0z"/>
</g>
<g clip-path="url(#cl2)">
<path fill="#000000" d="M174.9,1600.9h13.2v13.2h-13.2zM188.6,1589.3h13.2v13.2h-13.2zM206.8,1585.5h13.2v13.2h-13.2zM224.9,1593.5h13.2v13.2h-13.2zM243.0,1613.7h13.2v13.2h-13.2zM261.1,1639.9h13.2v13.2h-13.2zM279.3,1672.6h13.2v13.2h-13.2zM297.4,1707.2h13.2v13.2h-13.2zM315.5,1737.6h13.2v13.2h-13.2zM333.7,1766.4h13.2v13.2h-13.2zM351.8,1792.7h13.2v13.2h-13.2zM369.9,1809.6h13.2v13.2h-13.2zM388.1,1824.1h13.2v13.2h-13.2zM406.2,1833.0h13.2v13.2h-13.2zM424.3,1838.5h13.2v13.2h-13.2zM442.4,1841.0h13.2v13.2h-13.2zM460.6,1841.7h13.2v13.2h-13.2zM478.7,1841.0h13.2v13.2h-13.2zM496.8,1838.5h13.2v13.2h-13.2zM515.0,1835.3h13.2v13.2h-13.2zM533.1,1831.4h13.2v13.2h-13.2zM551.2,1828.9h13.2v13.2h-13.2zM569.4,1828.2h13.2v13.2h-13.2zM587.5,1827.3h13.2v13.2h-13.2zM605.6,1825.7h13.2v13.2h-13.2zM623.8,1830.9h13.2v13.2h-13.2zM641.9,1835.9h13.2v13.2h-13.2zM660.0,1839.3h13.2v13.2h-13.2zM678.1,1845.0h13.2v13.2h-13.2zM696.3,1851.0h13.2v13.2h-13.2zM714.4,1857.7h13.2v13.2h-13.2zM732.5,1865.0h13.2v13.2h-13.2zM750.7,1871.7h13.2v13.2h-13.2zM768.8,1877.8h13.2v13.2h-13.2zM786.9,1883.5h13.2v13.2h-13.2zM805.0,1887.8h13.2v13.2h-13.2zM823.2,1891.2h13.2v13.2h-13.2zM841.3,1893.8h13.2v13.2h-13.2zM859.4,1895.5h13.2v13.2h-13.2zM877.6,1895.5h13.2v13.2h-13.2zM895.7,1894.5h13.2v13.2h-13.2zM913.8,1891.8h13.2v13.2h-13.2zM932.0,1887.8h13.2v13.2h-13.2zM950.1,1880.1h13.2v13.2h-13.2zM968.2,1870.1h13.2v13.2h-13.2zM986.3,1857.7h13.2v13.2h-13.2zM1004.5,1840.3h13.2v13.2h-13.2zM1022.6,1819.9h13.2v13.2h-13.2zM1040.7,1791.7h13.2v13.2h-13.2z"/>
<path fill="#ff0000" d="M174.1,1710.6a7.45,7.45 0 1,0 14.9,0a7.45,7.45 0 1,0 -14.9,0zM187.8,1682.7a7.45,7.45 0 1,0 14.9,0a7.45,7.45 0 1,0 -14.9,0zM205.9,1647.2a7.45,7.45 0 1,0 14.9,0a7.45,7.45 0 1,0 -14.9,0zM224.0,1617.1a7.45,7.45 0 1,0 14.9,0a7.45,7.45 0 1,0 -14.9,0zM242.2,1594.6a7.45,7.45 0 1,0 14.9,0a7.45,7.45 0 1,0 -14.9,0zM260.3,1583.1a7.45,7.45 0 1,0 14.9,0a7.45,7.45 0 1,0 -14.9,0zM278.4,1583.1a7.45,7.45 0 1,0 14.9,0a7.45,7.45 0 1,0 -14.9,0zM296.6,1596.9a7.45,7.45 0 1,0 14.9,0a7.45,7.45 0 1,0 -14.9,0zM314.7,1620.3a7.45,7.45 0 1,0 14.9,0a7.45,7.45 0 1,0 -14.9,0zM332.8,1653.9a7.45,7.45 0 1,0 14.9,0a7.45,7.45 0 1,0 -14.9,0zM350.9,1688.2a7.45,7.45 0 1,0 14.9,0a7.45,7.45 0 1,0 -14.9,0zM369.1,1722.7a7.45,7.45 0 1,0 14.9,0a7.45,7.45 0 1,0 -14.9,0zM387.2,1754.8a7.45,7.45 0 1,0 14.9,0a7.45,7.45 0 1,0 -14.9,0zM405.3,1781.7a7.45,7.45 0 1,0 14.9,0a7.45,7.45 0 1,0 -14.9,0zM423.5,1803.4a7.45,7.45 0 1,0 14.9,0a7.45,7.45 0 1,0 -14.9,0zM441.6,1819.4a7.45,7.45 0 1,0 14.9,0a7.45,7.45 0 1,0 -14.9,0zM459.7,1831.3a7.45,7.45 0 1,0 14.9,0a7.45,7.45 0 1,0 -14.9,0zM477.9,1838.0a7.45,7.45 0 1,0 14.9,0a7.45,7.45 0 1,0 -14.9,0zM496.0,1842.5a7.45,7.45 0 1,0 14.9,0a7.45,7.45 0 1,0 -14.9,0zM514.1,1844.4a7.45,7.45 0 1,0 14.9,0a7.45,7.45 0 1,0 -14.9,0zM532.2,1843.8a7.45,7.45 0 1,0 14.9,0a7.45,7.45 0 1,0 -14.9,0zM550.4,1841.9a7.45,7.45 0 1,0 14.9,0a7.45,7.45 0 1,0 -14.9,0zM568.5,1839.3a7.45,7.45 0 1,0 14.9,0a7.45,7.45 0 1,0 -14.9,0zM586.6,1835.5a7.45,7.45 0 1,0 14.9,0a7.45,7.45 0 1,0 -14.9,0zM604.8,1832.9a7.45,7.45 0 1,0 14.9,0a7.45,7.45 0 1,0 -14.9,0zM622.9,1834.2a7.45,7.45 0 1,0 14.9,0a7.45,7.45 0 1,0 -14.9,0zM641.0,1833.5a7.45,7.45 0 1,0 14.9,0a7.45,7.45 0 1,0 -14.9,0zM659.2,1834.5a7.45,7.45 0 1,0 14.9,0a7.45,7.45 0 1,0 -14.9,0zM677.3,1836.8a7.45,7.45 0 1,0 14.9,0a7.45,7.45 0 1,0 -14.9,0zM695.4,1839.8a7.45,7.45 0 1,0 14.9,0a7.45,7.45 0 1,0 -14.9,0zM713.5,1844.2a7.45,7.45 0 1,0 14.9,0a7.45,7.45 0 1,0 -14.9,0zM731.7,1850.2a7.45,7.45 0 1,0 14.9,0a7.45,7.45 0 1,0 -14.9,0zM749.8,1857.6a7.45,7.45 0 1,0 14.9,0a7.45,7.45 0 1,0 -14.9,0zM767.9,1865.0a7.45,7.45 0 1,0 14.9,0a7.45,7.45 0 1,0 -14.9,0zM786.1,1872.0a7.45,7.45 0 1,0 14.9,0a7.45,7.45 0 1,0 -14.9,0zM804.2,1878.3a7.45,7.45 0 1,0 14.9,0a7.45,7.45 0 1,0 -14.9,0zM822.3,1884.4a7.45,7.45 0 1,0 14.9,0a7.45,7.45 0 1,0 -14.9,0zM840.5,1890.1a7.45,7.45 0 1,0 14.9,0a7.45,7.45 0 1,0 -14.9,0zM858.6,1893.4a7.45,7.45 0 1,0 14.9,0a7.45,7.45 0 1,0 -14.9,0zM876.7,1896.8a7.45,7.45 0 1,0 14.9,0a7.45,7.45 0 1,0 -14.9,0zM894.8,1898.8a7.45,7.45 0 1,0 14.9,0a7.45,7.45 0 1,0 -14.9,0zM913.0,1899.4a7.45,7.45 0 1,0 14.9,0a7.45,7.45 0 1,0 -14.9,0zM931.1,1897.8a7.45,7.45 0 1,0 14.9,0a7.45,7.45 0 1,0 -14.9,0zM949.2,1894.4a7.45,7.45 0 1,0 14.9,0a7.45,7.45 0 1,0 -14.9,0zM967.4,1890.1a7.45,7.45 0 1,0 14.9,0a7.45,7.45 0 1,0 -14.9,0zM985.5,1883.7a7.45,7.45 0 1,0 14.9,0a7.45,7.45 0 1,0 -14.9,0zM1003.6,1874.7a7.45,7.45 0 1,0 14.9,0a7.45,7.45 0 1,0 -14.9,0zM1021.8,1861.9a7.45,7.45 0 1,0 14.9,0a7.45,7.45 0 1,0 -14.9,0zM1039.9,1844.2a7.45,7.45 0 1,0 14.9,0a7.45,7.45 0 1,0 -14.9,0z"/>
<path fill="#0000ff" d="M181.5,1817.9L190.7,1833.9H172.3zM195.2,1794.8L204.4,1810.8H186.1zM213.4,1760.2L222.5,1776.2H204.2zM231.5,1724.3L240.6,1740.3H222.3zM249.6,1685.0L258.8,1701.0H240.5zM267.8,1644.9L276.9,1660.9H258.6zM285.9,1610.3L295.0,1626.3H276.7zM304.0,1580.9L313.2,1596.9H294.9zM322.1,1563.3L331.3,1579.3H313.0zM340.3,1556.9L349.4,1572.9H331.1zM358.4,1564.9L367.5,1580.9H349.2zM376.5,1584.7L385.7,1600.7H367.4zM394.7,1612.9L403.8,1628.9H385.5zM412.8,1648.8L421.9,1664.8H403.6zM430.9,1685.9L440.1,1701.9H421.8zM449.0,1721.1L458.2,1737.1H439.9zM467.2,1752.2L476.3,1768.2H458.0zM485.3,1777.8L494.5,1793.8H476.2zM503.4,1797.0L512.6,1813.0H494.3zM521.6,1811.4L530.7,1827.4H512.4zM539.7,1820.4L548.8,1836.4H530.5zM557.8,1825.9L567.0,1841.9H548.7zM576.0,1829.1L585.1,1845.1H566.8zM594.1,1829.1L603.2,1845.1H584.9zM612.2,1828.1L621.4,1844.1H603.1zM630.4,1828.5L639.5,1844.5H621.2zM648.5,1826.2L657.6,1842.2H639.3zM666.6,1825.1L675.8,1841.1H657.5zM684.7,1823.8L693.9,1839.8H675.6zM702.9,1823.5L712.0,1839.5H693.7zM721.0,1824.5L730.1,1840.5H711.9zM739.1,1826.8L748.3,1842.8H730.0zM757.3,1831.2L766.4,1847.2H748.1zM775.4,1837.2L784.5,1853.2H766.2zM793.5,1843.9L802.7,1859.9H784.4zM811.6,1851.3L820.8,1867.3H802.5zM829.8,1858.6L838.9,1874.6H820.6zM847.9,1865.7L857.1,1881.7H838.8zM866.0,1872.0L875.2,1888.0H856.9zM884.2,1878.0L893.3,1894.0H875.0zM902.3,1883.1L911.4,1899.1H893.1zM920.4,1886.4L929.6,1902.4H911.3zM938.6,1888.8L947.7,1904.8H929.4zM956.7,1888.8L965.8,1904.8H947.5zM974.8,1888.1L984.0,1904.1H965.7zM992.9,1885.4L1002.1,1901.4H983.8zM1011.1,1878.7L1020.2,1894.7H1001.9zM1029.2,1871.3L1038.4,1887.3H1020.1zM1047.3,1860.6L1056.5,1876.6H1038.2z"/>
<path fill="#ff00ff" d="M181.5,1910.8L190.7,1894.6H172.3zM195.2,1897.4L204.4,1881.2H186.1zM213.4,1876.2L222.5,1860.0H204.2zM231.5,1850.0L240.6,1833.8H222.3zM249.6,1819.5L258.8,1803.3H240.5zM267.8,1784.3L276.9,1768.1H258.6zM285.9,1744.3L295.0,1728.1H276.7zM304.0,1705.2L313.2,1689.0H294.9zM322.1,1662.6L331.3,1646.4H313.0zM340.3,1622.6L349.4,1606.4H331.1zM358.4,1589.0L367.5,1572.8H349.2zM376.5,1565.9L385.7,1549.7H367.4zM394.7,1555.3L403.8,1539.1H385.5zM412.8,1559.2L421.9,1543.0H403.6zM430.9,1577.8L440.1,1561.6H421.8zM449.0,1606.6L458.2,1590.4H439.9zM467.2,1643.4L476.3,1627.2H458.0zM485.3,1681.8L494.5,1665.6H476.2zM503.4,1720.3L512.6,1704.1H494.3zM521.6,1753.9L530.7,1737.7H512.4zM539.7,1781.1L548.8,1764.9H530.5zM557.8,1803.5L567.0,1787.3H548.7zM576.0,1820.5L585.1,1804.3H566.8zM594.1,1830.8L603.2,1814.6H584.9zM612.2,1837.2L621.4,1821.0H603.1zM630.4,1840.6L639.5,1824.4H621.2zM648.5,1841.2L657.6,1825.0H639.3zM666.6,1841.2L675.8,1825.0H657.5zM684.7,1840.6L693.9,1824.4H675.6zM702.9,1838.9L712.0,1822.7H693.7zM721.0,1837.2L730.1,1821.0H711.9zM739.1,1837.2L748.3,1821.0H730.0zM757.3,1838.9L766.4,1822.7H748.1zM775.4,1842.3L784.5,1826.1H766.2zM793.5,1845.6L802.7,1829.4H784.4zM811.6,1850.6L820.8,1834.4H802.5zM829.8,1857.3L838.9,1841.1H820.6zM847.9,1864.0L857.1,1847.8H838.8zM866.0,1872.4L875.2,1856.2H856.9zM884.2,1880.8L893.3,1864.6H875.0zM902.3,1889.1L911.4,1872.9H893.1zM920.4,1894.1L929.6,1877.9H911.3zM938.6,1900.2L947.7,1884.0H929.4zM956.7,1904.9L965.8,1888.7H947.5zM974.8,1907.5L984.0,1891.3H965.7zM992.9,1909.2L1002.1,1893.0H983.8zM1011.1,1905.9L1020.2,1889.7H1001.9zM1029.2,1900.8L1038.4,1884.6H1020.1zM1047.3,1893.5L1056.5,1877.3H1038.2z"/>
<path fill="#008000" d="M181.5,1926.7L191.1,1936.3L181.5,1945.9L171.9,1936.3zM195.2,1920.3L204.8,1929.9L195.2,1939.5L185.6,1929.9zM213.4,1909.8L223.0,1919.4L213.4,1929.0L203.8,1919.4zM231.5,1895.7L241.1,1905.3L231.5,1914.9L221.9,1905.3zM249.6,1877.7L259.2,1887.3L249.6,1896.9L240.0,1887.3zM267.8,1853.1L277.4,1862.7L267.8,1872.3L258.1,1862.7zM285.9,1825.9L295.5,1835.5L285.9,1845.1L276.3,1835.5zM304.0,1793.2L313.6,1802.8L304.0,1812.4L294.4,1802.8zM322.1,1757.0L331.7,1766.6L322.1,1776.2L312.5,1766.6zM340.3,1717.0L349.9,1726.6L340.3,1736.2L330.7,1726.6zM358.4,1673.1L368.0,1682.7L358.4,1692.3L348.8,1682.7zM376.5,1628.9L386.1,1638.5L376.5,1648.1L366.9,1638.5zM394.7,1587.3L404.3,1596.9L394.7,1606.5L385.1,1596.9zM412.8,1551.1L422.4,1560.7L412.8,1570.3L403.2,1560.7zM430.9,1526.4L440.5,1536.0L430.9,1545.6L421.3,1536.0zM449.0,1515.2L458.6,1524.8L449.0,1534.4L439.4,1524.8zM467.2,1519.1L476.8,1528.7L467.2,1538.3L457.6,1528.7zM485.3,1538.3L494.9,1547.9L485.3,1557.5L475.7,1547.9zM503.4,1569.0L513.0,1578.6L503.4,1588.2L493.8,1578.6zM521.6,1608.1L531.2,1617.7L521.6,1627.3L512.0,1617.7zM539.7,1648.8L549.3,1658.4L539.7,1668.0L530.1,1658.4zM557.8,1689.1L567.4,1698.7L557.8,1708.3L548.2,1698.7zM576.0,1725.0L585.6,1734.6L576.0,1744.2L566.4,1734.6zM594.1,1753.8L603.7,1763.4L594.1,1773.0L584.5,1763.4zM612.2,1776.2L621.8,1785.8L612.2,1795.4L602.6,1785.8zM630.4,1792.7L640.0,1802.3L630.4,1811.9L620.8,1802.3zM648.5,1804.5L658.1,1814.1L648.5,1823.7L638.9,1814.1zM666.6,1812.2L676.2,1821.8L666.6,1831.4L657.0,1821.8zM684.7,1817.2L694.3,1826.8L684.7,1836.4L675.1,1826.8zM702.9,1817.9L712.5,1827.5L702.9,1837.1L693.3,1827.5zM721.0,1817.9L730.6,1827.5L721.0,1837.1L711.4,1827.5zM739.1,1817.2L748.7,1826.8L739.1,1836.4L729.5,1826.8zM757.3,1816.5L766.9,1826.1L757.3,1835.7L747.7,1826.1zM775.4,1817.2L785.0,1826.8L775.4,1836.4L765.8,1826.8zM793.5,1817.9L803.1,1827.5L793.5,1837.1L783.9,1827.5zM811.6,1819.5L821.2,1829.1L811.6,1838.7L802.0,1829.1zM829.8,1822.9L839.4,1832.5L829.8,1842.1L820.2,1832.5zM847.9,1828.9L857.5,1838.5L847.9,1848.1L838.3,1838.5zM866.0,1836.3L875.6,1845.9L866.0,1855.5L856.4,1845.9zM884.2,1844.6L893.8,1854.2L884.2,1863.8L874.6,1854.2zM902.3,1853.0L911.9,1862.6L902.3,1872.2L892.7,1862.6zM920.4,1862.0L930.0,1871.6L920.4,1881.2L910.8,1871.6zM938.6,1868.7L948.2,1878.3L938.6,1887.9L929.0,1878.3zM956.7,1877.1L966.3,1886.7L956.7,1896.3L947.1,1886.7zM974.8,1882.5L984.4,1892.1L974.8,1901.7L965.2,1892.1zM992.9,1886.5L1002.5,1896.1L992.9,1905.7L983.3,1896.1zM1011.1,1887.2L1020.7,1896.8L1011.1,1906.4L1001.5,1896.8zM1029.2,1886.5L1038.8,1896.1L1029.2,1905.7L1019.6,1896.1zM1047.3,1884.8L1056.9,1894.4L1047.3,1904.0L1037.7,1894.4z"/>
<path fill="#000080" d="M172.2,1952.3L188.0,1943.1V1961.5zM185.9,1949.1L201.7,1939.9V1958.3zM204.1,1943.7L219.9,1934.5V1952.9zM222.2,1937.3L238.0,1928.1V1946.5zM240.3,1927.7L256.1,1918.5V1936.9zM258.4,1916.2L274.2,1907.0V1925.4zM276.6,1900.1L292.4,1890.9V1909.3zM294.7,1880.3L310.5,1871.1V1889.5zM312.8,1855.6L328.6,1846.4V1864.8zM331.0,1825.9L346.8,1816.7V1835.1zM349.1,1790.6L364.9,1781.4V1799.8zM367.2,1752.2L383.0,1743.0V1761.4zM385.4,1709.9L401.2,1700.7V1719.1zM403.5,1665.1L419.3,1655.9V1674.3zM421.6,1619.3L437.4,1610.1V1628.5zM439.7,1575.4L455.5,1566.2V1584.6zM457.9,1539.2L473.7,1530.0V1548.4zM476.0,1513.6L491.8,1504.4V1522.8zM494.1,1503.1L509.9,1493.9V1512.3zM512.3,1508.8L528.1,1499.6V1518.0zM530.4,1529.6L546.2,1520.4V1538.8zM548.5,1563.3L564.3,1554.1V1572.5zM566.7,1603.3L582.5,1594.1V1612.5zM584.8,1646.5L600.6,1637.3V1655.7zM602.9,1689.8L618.7,1680.6V1699.0zM621.1,1725.3L636.9,1716.1V1734.5zM639.2,1755.5L655.0,1746.3V1764.7zM657.3,1779.9L673.1,1770.7V1789.1zM675.4,1796.7L691.2,1787.5V1805.9zM693.6,1809.0L709.4,1799.8V1818.2zM711.7,1816.4L727.5,1807.2V1825.6zM729.8,1819.8L745.6,1810.6V1829.0zM748.0,1821.8L763.8,1812.6V1831.0zM766.1,1821.8L781.9,1812.6V1831.0zM784.2,1820.8L800.0,1811.6V1830.0zM802.4,1820.8L818.1,1811.6V1830.0zM820.5,1822.4L836.3,1813.2V1831.6zM838.6,1825.8L854.4,1816.6V1835.0zM856.7,1829.8L872.5,1820.6V1839.0zM874.9,1835.8L890.7,1826.6V1845.0zM893.0,1844.2L908.8,1835.0V1853.4zM911.1,1853.2L926.9,1844.0V1862.4zM929.3,1862.6L945.1,1853.4V1871.8zM947.4,1871.6L963.2,1862.4V1880.8zM965.5,1879.3L981.3,1870.1V1888.5zM983.6,1886.7L999.4,1877.5V1895.9zM1001.8,1892.7L1017.6,1883.5V1901.9zM1019.9,1896.1L1035.7,1886.9V1905.3zM1038.0,1895.4L1053.8,1886.2V1904.6z"/>
</g>
<g clip-path="url(#cl3)">
<path fill="#000000" d="M174.9,2299.2h13.2v13.2h-13.2zM188.6,2321.6h13.2v13.2h-13.2zM206.8,2355.2h13.2v13.2h-13.2zM224.9,2388.8h13.2v13.2h-13.2zM243.0,2416.7h13.2v13.2h-13.2zM261.1,2441.0h13.2v13.2h-13.2zM279.3,2461.8h13.2v13.2h-13.2zM297.4,2476.9h13.2v13.2h-13.2zM315.5,2488.1h13.2v13.2h-13.2zM333.7,2495.2h13.2v13.2h-13.2zM351.8,2499.3h13.2v13.2h-13.2zM369.9,2500.0h13.2v13.2h-13.2zM388.1,2498.4h13.2v13.2h-13.2zM406.2,2495.5h13.2v13.2h-13.2zM424.3,2489.1h13.2v13.2h-13.2zM442.4,2481.7h13.2v13.2h-13.2zM460.6,2473.7h13.2v13.2h-13.2zM478.7,2464.7h13.2v13.2h-13.2zM496.8,2456.7h13.2v13.2h-13.2zM515.0,2448.1h13.2v13.2h-13.2zM533.1,2442.3h13.2v13.2h-13.2zM551.2,2435.9h13.2v13.2h-13.2zM569.4,2432.1h13.2v13.2h-13.2zM587.5,2430.5h13.2v13.2h-13.2zM605.6,2431.1h13.2v13.2h-13.2zM623.8,2434.7h13.2v13.2h-13.2zM641.9,2442.4h13.2v13.2h-13.2zM660.0,2452.5h13.2v13.2h-13.2zM678.1,2460.8h13.2v13.2h-13.2zM696.3,2470.9h13.2v13.2h-13.2zM714.4,2481.6h13.2v13.2h-13.2zM732.5,2492.6h13.2v13.2h-13.2zM750.7,2502.7h13.2v13.2h-13.2zM768.8,2511.1h13.2v13.2h-13.2zM786.9,2517.7h13.2v13.2h-13.2zM805.0,2523.8h13.2v13.2h-13.2zM823.2,2528.8h13.2v13.2h-13.2zM841.3,2532.8h13.2v13.2h-13.2zM859.4,2534.5h13.2v13.2h-13.2zM877.6,2534.5h13.2v13.2h-13.2zM895.7,2532.8h13.2v13.2h-13.2zM913.8,2529.5h13.2v13.2h-13.2zM932.0,2523.8h13.2v13.2h-13.2zM950.1,2515.1h13.2v13.2h-13.2zM968.2,2506.0h13.2v13.2h-13.2zM986.3,2493.6h13.2v13.2h-13.2zM1004.5,2475.9h13.2v13.2h-13.2zM1022.6,2452.5h13.2v13.2h-13.2zM1040.7,2423.3h13.2v13.2h-13.2z"/>
<path fill="#ff0000" d="M174.1,2244.0a7.45,7.45 0 1,0 14.9,0a7.45,7.45 0 1,0 -14.9,0zM187.8,2239.5a7.45,7.45 0 1,0 14.9,0a7.45,7.45 0 1,0 -14.9,0zM205.9,2243.3a7.45,7.45 0 1,0 14.9,0a7.45,7.45 0 1,0 -14.9,0zM224.0,2256.1a7.45,7.45 0 1,0 14.9,0a7.45,7.45 0 1,0 -14.9,0zM242.2,2279.2a7.45,7.45 0 1,0 14.9,0a7.45,7.45 0 1,0 -14.9,0zM260.3,2307.4a7.45,7.45 0 1,0 14.9,0a7.45,7.45 0 1,0 -14.9,0zM278.4,2340.0a7.45,7.45 0 1,0 14.9,0a7.45,7.45 0 1,0 -14.9,0zM296.6,2373.7a7.45,7.45 0 1,0 14.9,0a7.45,7.45 0 1,0 -14.9,0zM314.7,2404.4a7.45,7.45 0 1,0 14.9,0a7.45,7.45 0 1,0 -14.9,0zM332.8,2432.3a7.45,7.45 0 1,0 14.9,0a7.45,7.45 0 1,0 -14.9,0zM350.9,2455.3a7.45,7.45 0 1,0 14.9,0a7.45,7.45 0 1,0 -14.9,0zM369.1,2472.3a7.45,7.45 0 1,0 14.9,0a7.45,7.45 0 1,0 -14.9,0zM387.2,2485.1a7.45,7.45 0 1,0 14.9,0a7.45,7.45 0 1,0 -14.9,0zM405.3,2493.1a7.45,7.45 0 1,0 14.9,0a7.45,7.45 0 1,0 -14.9,0zM423.5,2496.9a7.45,7.45 0 1,0 14.9,0a7.45,7.45 0 1,0 -14.9,0zM441.6,2497.3a7.45,7.45 0 1,0 14.9,0a7.45,7.45 0 1,0 -14.9,0zM459.7,2495.7a7.45,7.45 0 1,0 14.9,0a7.45,7.45 0 1,0 -14.9,0zM477.9,2490.9a7.45,7.45 0 1,0 14.9,0a7.45,7.45 0 1,0 -14.9,0zM496.0,2484.1a7.45,7.45 0 1,0 14.9,0a7.45,7.45 0 1,0 -14.9,0zM514.1,2477.1a7.45,7.45 0 1,0 14.9,0a7.45,7.45 0 1,0 -14.9,0zM532.2,2469.1a7.45,7.45 0 1,0 14.9,0a7.45,7.45 0 1,0 -14.9,0zM550.4,2461.1a7.45,7.45 0 1,0 14.9,0a7.45,7.45 0 1,0 -14.9,0zM568.5,2453.1a7.45,7.45 0 1,0 14.9,0a7.45,7.45 0 1,0 -14.9,0zM586.6,2445.7a7.45,7.45 0 1,0 14.9,0a7.45,7.45 0 1,0 -14.9,0zM604.8,2440.3a7.45,7.45 0 1,0 14.9,0a7.45,7.45 0 1,0 -14.9,0zM622.9,2435.6a7.45,7.45 0 1,0 14.9,0a7.45,7.45 0 1,0 -14.9,0zM641.0,2434.6a7.45,7.45 0 1,0 14.9,0a7.45,7.45 0 1,0 -14.9,0zM659.2,2437.3a7.45,7.45 0 1,0 14.9,0a7.45,7.45 0 1,0 -14.9,0zM677.3,2442.3a7.45,7.45 0 1,0 14.9,0a7.45,7.45 0 1,0 -14.9,0zM695.4,2449.0a7.45,7.45 0 1,0 14.9,0a7.45,7.45 0 1,0 -14.9,0zM713.5,2459.1a7.45,7.45 0 1,0 14.9,0a7.45,7.45 0 1,0 -14.9,0zM731.7,2469.1a7.45,7.45 0 1,0 14.9,0a7.45,7.45 0 1,0 -14.9,0zM749.8,2479.8a7.45,7.45 0 1,0 14.9,0a7.45,7.45 0 1,0 -14.9,0zM767.9,2490.9a7.45,7.45 0 1,0 14.9,0a7.45,7.45 0 1,0 -14.9,0zM786.1,2501.6a7.45,7.45 0 1,0 14.9,0a7.45,7.45 0 1,0 -14.9,0zM804.2,2511.0a7.45,7.45 0 1,0 14.9,0a7.45,7.45 0 1,0 -14.9,0zM822.3,2519.3a7.45,7.45 0 1,0 14.9,0a7.45,7.45 0 1,0 -14.9,0zM840.5,2526.0a7.45,7.45 0 1,0 14.9,0a7.45,7.45 0 1,0 -14.9,0zM858.6,2531.0a7.45,7.45 0 1,0 14.9,0a7.45,7.45 0 1,0 -14.9,0zM876.7,2535.4a7.45,7.45 0 1,0 14.9,0a7.45,7.45 0 1,0 -14.9,0zM894.8,2537.7a7.45,7.45 0 1,0 14.9,0a7.45,7.45 0 1,0 -14.9,0zM913.0,2538.4a7.45,7.45 0 1,0 14.9,0a7.45,7.45 0 1,0 -14.9,0zM931.1,2537.1a7.45,7.45 0 1,0 14.9,0a7.45,7.45 0 1,0 -14.9,0zM949.2,2533.4a7.45,7.45 0 1,0 14.9,0a7.45,7.45 0 1,0 -14.9,0zM967.4,2528.4a7.45,7.45 0 1,0 14.9,0a7.45,7.45 0 1,0 -14.9,0zM985.5,2521.7a7.45,7.45 0 1,0 14.9,0a7.45,7.45 0 1,0 -14.9,0zM1003.6,2512.6a7.45,7.45 0 1,0 14.9,0a7.45,7.45 0 1,0 -14.9,0zM1021.8,2499.2a7.45,7.45 0 1,0 14.9,0a7.45,7.45 0 1,0 -14.9,0zM1039.9,2479.8a7.45,7.45 0 1,0 14.9,0a7.45,7.45 0 1,0 -14.9,0z"/>
<path fill="#0000ff" d="M181.5,2309.0L190.7,2325.0H172.3zM195.2,2280.2L204.4,2296.2H186.1zM213.4,2249.7L222.5,2265.7H204.2zM231.5,2226.7L240.6,2242.7H222.3zM249.6,2213.5L258.8,2229.5H240.5zM267.8,2212.3L276.9,2228.3H258.6zM285.9,2220.9L295.0,2236.9H276.7zM304.0,2241.7L313.2,2257.7H294.9zM322.1,2266.7L331.3,2282.7H313.0zM340.3,2301.0L349.4,2317.0H331.1zM358.4,2337.2L367.5,2353.2H349.2zM376.5,2372.4L385.7,2388.4H367.4zM394.7,2404.1L403.8,2420.1H385.5zM412.8,2429.7L421.9,2445.7H403.6zM430.9,2450.8L440.1,2466.8H421.8zM449.0,2465.9L458.2,2481.9H439.9zM467.2,2476.1L476.3,2492.1H458.0zM485.3,2481.9L494.5,2497.9H476.2zM503.4,2484.5L512.6,2500.5H494.3zM521.6,2484.5L530.7,2500.5H512.4zM539.7,2481.3L548.8,2497.3H530.5zM557.8,2475.5L567.0,2491.5H548.7zM576.0,2466.5L585.1,2482.5H566.8zM594.1,2459.5L603.2,2475.5H584.9zM612.2,2449.9L621.4,2465.9H603.1zM630.4,2441.0L639.5,2457.0H621.2zM648.5,2434.3L657.6,2450.3H639.3zM666.6,2428.6L675.8,2444.6H657.5zM684.7,2426.0L693.9,2442.0H675.6zM702.9,2425.3L712.0,2441.3H693.7zM721.0,2428.3L730.1,2444.3H711.9zM739.1,2434.3L748.3,2450.3H730.0zM757.3,2442.7L766.4,2458.7H748.1zM775.4,2452.7L784.5,2468.7H766.2zM793.5,2464.5L802.7,2480.5H784.4zM811.6,2476.2L820.8,2492.2H802.5zM829.8,2487.9L838.9,2503.9H820.6zM847.9,2498.9L857.1,2514.9H838.8zM866.0,2508.0L875.2,2524.0H856.9zM884.2,2514.7L893.3,2530.7H875.0zM902.3,2520.4L911.4,2536.4H893.1zM920.4,2524.7L929.6,2540.7H911.3zM938.6,2526.4L947.7,2542.4H929.4zM956.7,2528.1L965.8,2544.1H947.5zM974.8,2528.1L984.0,2544.1H965.7zM992.9,2525.4L1002.1,2541.4H983.8zM1011.1,2520.4L1020.2,2536.4H1001.9zM1029.2,2512.3L1038.4,2528.3H1020.1zM1047.3,2500.3L1056.5,2516.3H1038.2z"/>
<path fill="#ff00ff" d="M181.5,2443.6L190.7,2427.4H172.3zM195.2,2412.2L204.4,2396.0H186.1zM213.4,2367.3L222.5,2351.1H204.2zM231.5,2322.5L240.6,2306.3H222.3zM249.6,2279.6L258.8,2263.4H240.5zM267.8,2244.4L276.9,2228.2H258.6zM285.9,2217.8L295.0,2201.6H276.7zM304.0,2205.0L313.2,2188.8H294.9zM322.1,2203.4L331.3,2187.2H313.0zM340.3,2216.8L349.4,2200.6H331.1zM358.4,2240.9L367.5,2224.7H349.2zM376.5,2272.9L385.7,2256.7H367.4zM394.7,2311.3L403.8,2295.1H385.5zM412.8,2350.7L421.9,2334.5H403.6zM430.9,2387.5L440.1,2371.3H421.8zM449.0,2421.1L458.2,2404.9H439.9zM467.2,2447.7L476.3,2431.5H458.0zM485.3,2469.2L494.5,2453.0H476.2zM503.4,2484.6L512.6,2468.4H494.3zM521.6,2494.2L530.7,2478.0H512.4zM539.7,2500.6L548.8,2484.4H530.5zM557.8,2502.8L567.0,2486.6H548.7zM576.0,2502.8L585.1,2486.6H566.8zM594.1,2499.6L603.2,2483.4H584.9zM612.2,2496.4L621.4,2480.2H603.1zM630.4,2480.6L639.5,2464.4H621.2zM648.5,2473.9L657.6,2457.7H639.3zM666.6,2465.5L675.8,2449.3H657.5zM684.7,2457.1L693.9,2440.9H675.6zM702.9,2450.4L712.0,2434.2H693.7zM721.0,2445.4L730.1,2429.2H711.9zM739.1,2442.7L748.3,2426.5H730.0zM757.3,2443.1L766.4,2426.9H748.1zM775.4,2447.1L784.5,2430.9H766.2zM793.5,2455.4L802.7,2439.2H784.4zM811.6,2465.5L820.8,2449.3H802.5zM829.8,2478.2L838.9,2462.0H820.6zM847.9,2489.6L857.1,2473.4H838.8zM866.0,2501.6L875.2,2485.4H856.9zM884.2,2514.0L893.3,2497.8H875.0zM902.3,2524.1L911.4,2507.9H893.1zM920.4,2532.4L929.6,2516.2H911.3zM938.6,2538.5L947.7,2522.3H929.4zM956.7,2543.5L965.8,2527.3H947.5zM974.8,2546.5L984.0,2530.3H965.7zM992.9,2548.5L1002.1,2532.3H983.8zM1011.1,2546.5L1020.2,2530.3H1001.9zM1029.2,2542.5L1038.4,2526.3H1020.1zM1047.3,2534.1L1056.5,2517.9H1038.2z"/>
<path fill="#008000" d="M181.5,2515.5L191.1,2525.1L181.5,2534.7L171.9,2525.1zM195.2,2496.3L204.8,2505.9L195.2,2515.5L185.6,2505.9zM213.4,2464.3L223.0,2473.9L213.4,2483.5L203.8,2473.9zM231.5,2425.2L241.1,2434.8L231.5,2444.4L221.9,2434.8zM249.6,2380.4L259.2,2390.0L249.6,2399.6L240.0,2390.0zM267.8,2330.4L277.4,2340.0L267.8,2349.6L258.1,2340.0zM285.9,2279.2L295.5,2288.8L285.9,2298.4L276.3,2288.8zM304.0,2232.8L313.6,2242.4L304.0,2252.0L294.4,2242.4zM322.1,2192.7L331.7,2202.3L322.1,2211.9L312.5,2202.3zM340.3,2166.5L349.9,2176.1L340.3,2185.7L330.7,2176.1zM358.4,2156.2L368.0,2165.8L358.4,2175.4L348.8,2165.8zM376.5,2158.5L386.1,2168.1L376.5,2177.7L366.9,2168.1zM394.7,2177.7L404.3,2187.3L394.7,2196.9L385.1,2187.3zM412.8,2207.5L422.4,2217.1L412.8,2226.7L403.2,2217.1zM430.9,2245.6L440.5,2255.2L430.9,2264.8L421.3,2255.2zM449.0,2288.2L458.6,2297.8L449.0,2307.4L439.4,2297.8zM467.2,2330.8L476.8,2340.4L467.2,2350.0L457.6,2340.4zM485.3,2370.5L494.9,2380.1L485.3,2389.7L475.7,2380.1zM503.4,2403.4L513.0,2413.0L503.4,2422.6L493.8,2413.0zM521.6,2430.7L531.2,2440.3L521.6,2449.9L512.0,2440.3zM539.7,2452.4L549.3,2462.0L539.7,2471.6L530.1,2462.0zM557.8,2466.5L567.4,2476.1L557.8,2485.7L548.2,2476.1zM576.0,2476.5L585.6,2486.1L576.0,2495.7L566.4,2486.1zM594.1,2480.9L603.7,2490.5L594.1,2500.1L584.5,2490.5zM612.2,2481.9L621.8,2491.5L612.2,2501.1L602.6,2491.5zM630.4,2480.3L640.0,2489.9L630.4,2499.5L620.8,2489.9zM648.5,2473.9L658.1,2483.5L648.5,2493.1L638.9,2483.5zM666.6,2467.9L676.2,2477.5L666.6,2487.1L657.0,2477.5zM684.7,2459.5L694.3,2469.1L684.7,2478.7L675.1,2469.1zM702.9,2451.1L712.5,2460.7L702.9,2470.3L693.3,2460.7zM721.0,2442.8L730.6,2452.4L721.0,2462.0L711.4,2452.4zM739.1,2434.4L748.7,2444.0L739.1,2453.6L729.5,2444.0zM757.3,2427.7L766.9,2437.3L757.3,2446.9L747.7,2437.3zM775.4,2423.7L785.0,2433.3L775.4,2442.9L765.8,2433.3zM793.5,2423.7L803.1,2433.3L793.5,2442.9L783.9,2433.3zM811.6,2427.7L821.2,2437.3L811.6,2446.9L802.0,2437.3zM829.8,2436.1L839.4,2445.7L829.8,2455.3L820.2,2445.7zM847.9,2445.1L857.5,2454.7L847.9,2464.3L838.3,2454.7zM866.0,2456.2L875.6,2465.8L866.0,2475.4L856.4,2465.8zM884.2,2469.6L893.8,2479.2L884.2,2488.8L874.6,2479.2zM902.3,2482.3L911.9,2491.9L902.3,2501.5L892.7,2491.9zM920.4,2494.7L930.0,2504.3L920.4,2513.9L910.8,2504.3zM938.6,2504.0L948.2,2513.6L938.6,2523.2L929.0,2513.6zM956.7,2512.4L966.3,2522.0L956.7,2531.6L947.1,2522.0zM974.8,2520.8L984.4,2530.4L974.8,2540.0L965.2,2530.4zM992.9,2525.8L1002.5,2535.4L992.9,2545.0L983.3,2535.4zM1011.1,2528.1L1020.7,2537.7L1011.1,2547.3L1001.5,2537.7zM1029.2,2527.5L1038.8,2537.1L1029.2,2546.7L1019.6,2537.1zM1047.3,2524.1L1056.9,2533.7L1047.3,2543.3L1037.7,2533.7z"/>
<path fill="#000080" d="M172.2,2570.0L188.0,2560.8V2579.2zM185.9,2560.4L201.7,2551.2V2569.6zM204.1,2544.3L219.9,2535.1V2553.5zM222.2,2524.2L238.0,2515.0V2533.4zM240.3,2496.9L256.1,2487.7V2506.1zM258.4,2461.1L274.2,2451.9V2470.3zM276.6,2417.8L292.4,2408.6V2427.0zM294.7,2367.6L310.5,2358.4V2376.8zM312.8,2314.7L328.6,2305.5V2323.9zM331.0,2260.0L346.8,2250.8V2269.2zM349.1,2210.7L364.9,2201.5V2219.9zM367.2,2171.3L383.0,2162.1V2180.5zM385.4,2147.2L401.2,2138.0V2156.4zM403.5,2137.6L419.3,2128.4V2146.8zM421.6,2145.6L437.4,2136.4V2154.8zM439.7,2169.7L455.5,2160.5V2178.9zM457.9,2204.9L473.7,2195.7V2214.1zM476.0,2247.5L491.8,2238.3V2256.7zM494.1,2293.9L509.9,2284.7V2303.1zM512.3,2338.8L528.1,2329.6V2348.0zM530.4,2379.4L546.2,2370.2V2388.6zM548.5,2414.0L564.3,2404.8V2423.2zM566.7,2440.3L582.5,2431.1V2449.5zM584.8,2460.4L600.6,2451.2V2469.6zM602.9,2476.1L618.7,2466.9V2485.3zM621.1,2483.5L636.9,2474.3V2492.7zM639.2,2487.5L655.0,2478.3V2496.7zM657.3,2487.5L673.1,2478.3V2496.7zM675.4,2485.2L691.2,2476.0V2494.4zM693.6,2479.2L709.4,2470.0V2488.4zM711.7,2472.5L727.5,2463.3V2481.7zM729.8,2464.1L745.6,2454.9V2473.3zM748.0,2454.0L763.8,2444.8V2463.2zM766.1,2445.7L781.9,2436.5V2454.9zM784.2,2440.0L800.0,2430.8V2449.2zM802.4,2436.6L818.1,2427.4V2445.8zM820.5,2435.6L836.3,2426.4V2444.8zM838.6,2437.3L854.4,2428.1V2446.5zM856.7,2444.0L872.5,2434.8V2453.2zM874.9,2454.0L890.7,2444.8V2463.2zM893.0,2465.1L908.8,2455.9V2474.3zM911.1,2479.2L926.9,2470.0V2488.4zM929.3,2492.5L945.1,2483.3V2501.7zM947.4,2504.3L963.2,2495.1V2513.5zM965.5,2513.6L981.3,2504.4V2522.8zM983.6,2522.7L999.4,2513.5V2531.9zM1001.8,2529.4L1017.6,2520.2V2538.6zM1019.9,2534.4L1035.7,2525.2V2543.6zM1038.0,2534.4L1053.8,2525.2V2543.6z"/>
</g>
<g clip-path="url(#cl4)">
<path fill="#000000" d="M174.9,2827.9h13.2v13.2h-13.2zM188.6,2824.7h13.2v13.2h-13.2zM206.8,2825.6h13.2v13.2h-13.2zM224.9,2837.5h13.2v13.2h-13.2zM243.0,2854.1h13.2v13.2h-13.2zM261.1,2873.7h13.2v13.2h-13.2zM279.3,2897.4h13.2v13.2h-13.2zM297.4,2919.1h13.2v13.2h-13.2zM315.5,2943.8h13.2v13.2h-13.2zM333.7,2965.6h13.2v13.2h-13.2zM351.8,2990.2h13.2v13.2h-13.2zM369.9,3011.0h13.2v13.2h-13.2zM388.1,3031.2h13.2v13.2h-13.2zM406.2,3048.8h13.2v13.2h-13.2zM424.3,3064.8h13.2v13.2h-13.2zM442.4,3079.3h13.2v13.2h-13.2zM460.6,3092.7h13.2v13.2h-13.2zM478.7,3104.2h13.2v13.2h-13.2zM496.8,3114.5h13.2v13.2h-13.2zM515.0,3124.7h13.2v13.2h-13.2zM533.1,3133.7h13.2v13.2h-13.2zM551.2,3141.7h13.2v13.2h-13.2zM569.4,3148.7h13.2v13.2h-13.2zM587.5,3156.1h13.2v13.2h-13.2zM605.6,3162.5h13.2v13.2h-13.2zM623.8,3168.6h13.2v13.2h-13.2zM641.9,3173.6h13.2v13.2h-13.2zM660.0,3178.6h13.2v13.2h-13.2zM678.1,3184.0h13.2v13.2h-13.2zM696.3,3188.0h13.2v13.2h-13.2zM714.4,3191.4h13.2v13.2h-13.2zM732.5,3194.0h13.2v13.2h-13.2zM750.7,3196.4h13.2v13.2h-13.2zM768.8,3198.1h13.2v13.2h-13.2zM786.9,3199.1h13.2v13.2h-13.2zM805.0,3199.7h13.2v13.2h-13.2zM823.2,3199.7h13.2v13.2h-13.2zM841.3,3198.7h13.2v13.2h-13.2zM859.4,3197.4h13.2v13.2h-13.2zM877.6,3194.7h13.2v13.2h-13.2zM895.7,3191.4h13.2v13.2h-13.2zM913.8,3186.3h13.2v13.2h-13.2zM932.0,3179.6h13.2v13.2h-13.2zM950.1,3172.3h13.2v13.2h-13.2zM968.2,3162.9h13.2v13.2h-13.2zM986.3,3150.5h13.2v13.2h-13.2zM1004.5,3135.1h13.2v13.2h-13.2zM1022.6,3117.0h13.2v13.2h-13.2zM1040.7,3093.6h13.2v13.2h-13.2z"/>
<path fill="#ff0000" d="M174.1,2963.2a7.45,7.45 0 1,0 14.9,0a7.45,7.45 0 1,0 -14.9,0zM187.8,2930.5a7.45,7.45 0 1,0 14.9,0a7.45,7.45 0 1,0 -14.9,0zM205.9,2890.5a7.45,7.45 0 1,0 14.9,0a7.45,7.45 0 1,0 -14.9,0zM224.0,2860.7a7.45,7.45 0 1,0 14.9,0a7.45,7.45 0 1,0 -14.9,0zM242.2,2842.5a7.45,7.45 0 1,0 14.9,0a7.45,7.45 0 1,0 -14.9,0zM260.3,2836.7a7.45,7.45 0 1,0 14.9,0a7.45,7.45 0 1,0 -14.9,0zM278.4,2839.9a7.45,7.45 0 1,0 14.9,0a7.45,7.45 0 1,0 -14.9,0zM296.6,2850.5a7.45,7.45 0 1,0 14.9,0a7.45,7.45 0 1,0 -14.9,0zM314.7,2866.5a7.45,7.45 0 1,0 14.9,0a7.45,7.45 0 1,0 -14.9,0zM332.8,2887.3a7.45,7.45 0 1,0 14.9,0a7.45,7.45 0 1,0 -14.9,0zM350.9,2910.4a7.45,7.45 0 1,0 14.9,0a7.45,7.45 0 1,0 -14.9,0zM369.1,2933.1a7.45,7.45 0 1,0 14.9,0a7.45,7.45 0 1,0 -14.9,0zM387.2,2956.2a7.45,7.45 0 1,0 14.9,0a7.45,7.45 0 1,0 -14.9,0zM405.3,2978.6a7.45,7.45 0 1,0 14.9,0a7.45,7.45 0 1,0 -14.9,0zM423.5,3000.0a7.45,7.45 0 1,0 14.9,0a7.45,7.45 0 1,0 -14.9,0zM441.6,3020.2a7.45,7.45 0 1,0 14.9,0a7.45,7.45 0 1,0 -14.9,0zM459.7,3039.4a7.45,7.45 0 1,0 14.9,0a7.45,7.45 0 1,0 -14.9,0zM477.9,3056.4a7.45,7.45 0 1,0 14.9,0a7.45,7.45 0 1,0 -14.9,0zM496.0,3073.0a7.45,7.45 0 1,0 14.9,0a7.45,7.45 0 1,0 -14.9,0zM514.1,3086.5a7.45,7.45 0 1,0 14.9,0a7.45,7.45 0 1,0 -14.9,0zM532.2,3099.3a7.45,7.45 0 1,0 14.9,0a7.45,7.45 0 1,0 -14.9,0zM550.4,3111.5a7.45,7.45 0 1,0 14.9,0a7.45,7.45 0 1,0 -14.9,0zM568.5,3122.0a7.45,7.45 0 1,0 14.9,0a7.45,7.45 0 1,0 -14.9,0zM586.6,3131.3a7.45,7.45 0 1,0 14.9,0a7.45,7.45 0 1,0 -14.9,0zM604.8,3140.3a7.45,7.45 0 1,0 14.9,0a7.45,7.45 0 1,0 -14.9,0zM622.9,3148.4a7.45,7.45 0 1,0 14.9,0a7.45,7.45 0 1,0 -14.9,0zM641.0,3156.8a7.45,7.45 0 1,0 14.9,0a7.45,7.45 0 1,0 -14.9,0zM659.2,3162.8a7.45,7.45 0 1,0 14.9,0a7.45,7.45 0 1,0 -14.9,0zM677.3,3169.5a7.45,7.45 0 1,0 14.9,0a7.45,7.45 0 1,0 -14.9,0zM695.4,3175.5a7.45,7.45 0 1,0 14.9,0a7.45,7.45 0 1,0 -14.9,0zM713.5,3181.2a7.45,7.45 0 1,0 14.9,0a7.45,7.45 0 1,0 -14.9,0zM731.7,3185.6a7.45,7.45 0 1,0 14.9,0a7.45,7.45 0 1,0 -14.9,0zM749.8,3189.6a7.45,7.45 0 1,0 14.9,0a7.45,7.45 0 1,0 -14.9,0zM767.9,3192.9a7.45,7.45 0 1,0 14.9,0a7.45,7.45 0 1,0 -14.9,0zM786.1,3196.3a7.45,7.45 0 1,0 14.9,0a7.45,7.45 0 1,0 -14.9,0zM804.2,3198.6a7.45,7.45 0 1,0 14.9,0a7.45,7.45 0 1,0 -14.9,0zM822.3,3200.3a7.45,7.45 0 1,0 14.9,0a7.45,7.45 0 1,0 -14.9,0zM840.5,3201.3a7.45,7.45 0 1,0 14.9,0a7.45,7.45 0 1,0 -14.9,0zM858.6,3202.0a7.45,7.45 0 1,0 14.9,0a7.45,7.45 0 1,0 -14.9,0zM876.7,3201.3a7.45,7.45 0 1,0 14.9,0a7.45,7.45 0 1,0 -14.9,0zM894.8,3199.0a7.45,7.45 0 1,0 14.9,0a7.45,7.45 0 1,0 -14.9,0zM913.0,3196.3a7.45,7.45 0 1,0 14.9,0a7.45,7.45 0 1,0 -14.9,0zM931.1,3192.9a7.45,7.45 0 1,0 14.9,0a7.45,7.45 0 1,0 -14.9,0zM949.2,3188.6a7.45,7.45 0 1,0 14.9,0a7.45,7.45 0 1,0 -14.9,0zM967.4,3182.9a7.45,7.45 0 1,0 14.9,0a7.45,7.45 0 1,0 -14.9,0zM985.5,3176.2a7.45,7.45 0 1,0 14.9,0a7.45,7.45 0 1,0 -14.9,0zM1003.6,3166.8a7.45,7.45 0 1,0 14.9,0a7.45,7.45 0 1,0 -14.9,0zM1021.8,3154.4a7.45,7.45 0 1,0 14.9,0a7.45,7.45 0 1,0 -14.9,0zM1039.9,3137.7a7.45,7.45 0 1,0 14.9,0a7.45,7.45 0 1,0 -14.9,0z"/>
<path fill="#0000ff" d="M181.5,3105.1L190.7,3121.1H172.3zM195.2,3076.3L204.4,3092.3H186.1zM213.4,3032.1L222.5,3048.1H204.2zM231.5,2985.0L240.6,3001.0H222.3zM249.6,2939.5L258.8,2955.5H240.5zM267.8,2898.5L276.9,2914.5H258.6zM285.9,2868.1L295.0,2884.1H276.7zM304.0,2846.6L313.2,2862.6H294.9zM322.1,2837.7L331.3,2853.7H313.0zM340.3,2840.2L349.4,2856.2H331.1zM358.4,2849.8L367.5,2865.8H349.2zM376.5,2865.9L385.7,2881.9H367.4zM394.7,2882.5L403.8,2898.5H385.5zM412.8,2902.4L421.9,2918.4H403.6zM430.9,2923.5L440.1,2939.5H421.8zM449.0,2944.0L458.2,2960.0H439.9zM467.2,2966.7L476.3,2982.7H458.0zM485.3,2987.2L494.5,3003.2H476.2zM503.4,3006.4L512.6,3022.4H494.3zM521.6,3024.4L530.7,3040.4H512.4zM539.7,3041.7L548.8,3057.7H530.5zM557.8,3057.7L567.0,3073.7H548.7zM576.0,3072.1L585.1,3088.1H566.8zM594.1,3084.9L603.2,3100.9H584.9zM612.2,3096.4L621.4,3112.4H603.1zM630.4,3107.9L639.5,3123.9H621.2zM648.5,3117.0L657.6,3133.0H639.3zM666.6,3127.0L675.8,3143.0H657.5zM684.7,3135.7L693.9,3151.7H675.6zM702.9,3143.8L712.0,3159.8H693.7zM721.0,3150.8L730.1,3166.8H711.9zM739.1,3158.2L748.3,3174.2H730.0zM757.3,3164.8L766.4,3180.8H748.1zM775.4,3169.9L784.5,3185.9H766.2zM793.5,3174.9L802.7,3190.9H784.4zM811.6,3179.2L820.8,3195.2H802.5zM829.8,3182.6L838.9,3198.6H820.6zM847.9,3185.9L857.1,3201.9H838.8zM866.0,3187.3L875.2,3203.3H856.9zM884.2,3188.3L893.3,3204.3H875.0zM902.3,3188.3L911.4,3204.3H893.1zM920.4,3188.3L929.6,3204.3H911.3zM938.6,3185.9L947.7,3201.9H929.4zM956.7,3182.6L965.8,3198.6H947.5zM974.8,3179.2L984.0,3195.2H965.7zM992.9,3174.9L1002.1,3190.9H983.8zM1011.1,3169.9L1020.2,3185.9H1001.9zM1029.2,3163.2L1038.4,3179.2H1020.1zM1047.3,3151.5L1056.5,3167.5H1038.2z"/>
<path fill="#ff00ff" d="M181.5,3191.6L190.7,3175.4H172.3zM195.2,3175.6L204.4,3159.4H186.1zM213.4,3148.4L222.5,3132.2H204.2zM231.5,3113.2L240.6,3097.0H222.3zM249.6,3074.1L258.8,3057.9H240.5zM267.8,3028.9L276.9,3012.7H258.6zM285.9,2982.5L295.0,2966.3H276.7zM304.0,2940.2L313.2,2924.0H294.9zM322.1,2905.0L331.3,2888.8H313.0zM340.3,2881.0L349.4,2864.8H331.1zM358.4,2867.5L367.5,2851.3H349.2zM376.5,2865.9L385.7,2849.7H367.4zM394.7,2870.4L403.8,2854.2H385.5zM412.8,2882.6L421.9,2866.4H403.6zM430.9,2898.6L440.1,2882.4H421.8zM449.0,2916.9L458.2,2900.7H439.9zM467.2,2936.4L476.3,2920.2H458.0zM485.3,2956.3L494.5,2940.1H476.2zM503.4,2976.1L512.6,2959.9H494.3zM521.6,2995.3L530.7,2979.1H512.4zM539.7,3013.9L548.8,2997.7H530.5zM557.8,3031.5L567.0,3015.3H548.7zM576.0,3048.2L585.1,3032.0H566.8zM594.1,3063.5L603.2,3047.3H584.9zM612.2,3077.9L621.4,3061.7H603.1zM630.4,3091.6L639.5,3075.4H621.2zM648.5,3103.9L657.6,3087.7H639.3zM666.6,3115.7L675.8,3099.5H657.5zM684.7,3126.4L693.9,3110.2H675.6zM702.9,3136.8L712.0,3120.6H693.7zM721.0,3146.5L730.1,3130.3H711.9zM739.1,3155.2L748.3,3139.0H730.0zM757.3,3163.2L766.4,3147.0H748.1zM775.4,3170.9L784.5,3154.7H766.2zM793.5,3177.6L802.7,3161.4H784.4zM811.6,3183.3L820.8,3167.1H802.5zM829.8,3188.6L838.9,3172.4H820.6zM847.9,3193.3L857.1,3177.1H838.8zM866.0,3197.7L875.2,3181.5H856.9zM884.2,3201.0L893.3,3184.8H875.0zM902.3,3203.4L911.4,3187.2H893.1zM920.4,3205.4L929.6,3189.2H911.3zM938.6,3206.1L947.7,3189.9H929.4zM956.7,3205.4L965.8,3189.2H947.5zM974.8,3203.4L984.0,3187.2H965.7zM992.9,3200.0L1002.1,3183.8H983.8zM1011.1,3196.0L1020.2,3179.8H1001.9zM1029.2,3192.0L1038.4,3175.8H1020.1zM1047.3,3184.3L1056.5,3168.1H1038.2z"/>
<path fill="#008000" d="M181.5,3207.6L191.1,3217.2L181.5,3226.8L171.9,3217.2zM195.2,3197.9L204.8,3207.5L195.2,3217.1L185.6,3207.5zM213.4,3182.6L223.0,3192.2L213.4,3201.8L203.8,3192.2zM231.5,3161.1L241.1,3170.7L231.5,3180.3L221.9,3170.7zM249.6,3133.9L259.2,3143.5L249.6,3153.1L240.0,3143.5zM267.8,3100.9L277.4,3110.5L267.8,3120.1L258.1,3110.5zM285.9,3060.2L295.5,3069.8L285.9,3079.4L276.3,3069.8zM304.0,3015.4L313.6,3025.0L304.0,3034.6L294.4,3025.0zM322.1,2969.9L331.7,2979.5L322.1,2989.1L312.5,2979.5zM340.3,2926.4L349.9,2936.0L340.3,2945.6L330.7,2936.0zM358.4,2890.5L368.0,2900.1L358.4,2909.7L348.8,2900.1zM376.5,2865.5L386.1,2875.1L376.5,2884.7L366.9,2875.1zM394.7,2851.4L404.3,2861.0L394.7,2870.6L385.1,2861.0zM412.8,2846.3L422.4,2855.9L412.8,2865.5L403.2,2855.9zM430.9,2851.4L440.5,2861.0L430.9,2870.6L421.3,2861.0zM449.0,2861.7L458.6,2871.3L449.0,2880.9L439.4,2871.3zM467.2,2876.1L476.8,2885.7L467.2,2895.3L457.6,2885.7zM485.3,2893.1L494.9,2902.7L485.3,2912.3L475.7,2902.7zM503.4,2912.3L513.0,2921.9L503.4,2931.5L493.8,2921.9zM521.6,2932.1L531.2,2941.7L521.6,2951.3L512.0,2941.7zM539.7,2950.7L549.3,2960.3L539.7,2969.9L530.1,2960.3zM557.8,2969.6L567.4,2979.2L557.8,2988.8L548.2,2979.2zM576.0,2988.2L585.6,2997.8L576.0,3007.4L566.4,2997.8zM594.1,3005.8L603.7,3015.4L594.1,3025.0L584.5,3015.4zM612.2,3022.5L621.8,3032.1L612.2,3041.7L602.6,3032.1zM630.4,3037.7L640.0,3047.3L630.4,3056.9L620.8,3047.3zM648.5,3051.8L658.1,3061.4L648.5,3071.0L638.9,3061.4zM666.6,3065.2L676.2,3074.8L666.6,3084.4L657.0,3074.8zM684.7,3077.9L694.3,3087.5L684.7,3097.1L675.1,3087.5zM702.9,3089.6L712.5,3099.2L702.9,3108.8L693.3,3099.2zM721.0,3100.6L730.6,3110.2L721.0,3119.8L711.4,3110.2zM739.1,3111.4L748.7,3121.0L739.1,3130.6L729.5,3121.0zM757.3,3121.4L766.9,3131.0L757.3,3140.6L747.7,3131.0zM775.4,3129.8L785.0,3139.4L775.4,3149.0L765.8,3139.4zM793.5,3138.8L803.1,3148.4L793.5,3158.0L783.9,3148.4zM811.6,3147.5L821.2,3157.1L811.6,3166.7L802.0,3157.1zM829.8,3155.5L839.4,3165.1L829.8,3174.7L820.2,3165.1zM847.9,3162.2L857.5,3171.8L847.9,3181.4L838.3,3171.8zM866.0,3168.3L875.6,3177.9L866.0,3187.5L856.4,3177.9zM884.2,3175.0L893.8,3184.6L884.2,3194.2L874.6,3184.6zM902.3,3180.0L911.9,3189.6L902.3,3199.2L892.7,3189.6zM920.4,3184.3L930.0,3193.9L920.4,3203.5L910.8,3193.9zM938.6,3186.7L948.2,3196.3L938.6,3205.9L929.0,3196.3zM956.7,3187.7L966.3,3197.3L956.7,3206.9L947.1,3197.3zM974.8,3188.4L984.4,3198.0L974.8,3207.6L965.2,3198.0zM992.9,3186.7L1002.5,3196.3L992.9,3205.9L983.3,3196.3zM1011.1,3184.0L1020.7,3193.6L1011.1,3203.2L1001.5,3193.6zM1029.2,3180.7L1038.8,3190.3L1029.2,3199.9L1019.6,3190.3zM1047.3,3175.6L1056.9,3185.2L1047.3,3194.8L1037.7,3185.2z"/>
<path fill="#000080" d="M172.2,3233.2L188.0,3224.0V3242.4zM185.9,3230.0L201.7,3220.8V3239.2zM204.1,3220.4L219.9,3211.2V3229.6zM222.2,3209.1L238.0,3199.9V3218.3zM240.3,3193.1L256.1,3183.9V3202.3zM258.4,3173.0L274.2,3163.8V3182.2zM276.6,3145.7L292.4,3136.5V3154.9zM294.7,3112.1L310.5,3102.9V3121.3zM312.8,3072.1L328.6,3062.9V3081.3zM331.0,3026.0L346.8,3016.8V3035.2zM349.1,2979.2L364.9,2970.0V2988.4zM367.2,2934.4L383.0,2925.2V2943.6zM385.4,2896.3L401.2,2887.1V2905.5zM403.5,2870.7L419.3,2861.5V2879.9zM421.6,2854.6L437.4,2845.4V2863.8zM439.7,2849.8L455.5,2840.6V2859.0zM457.9,2853.0L473.7,2843.8V2862.2zM476.0,2863.3L491.8,2854.1V2872.5zM494.1,2877.7L509.9,2868.5V2886.9zM512.3,2895.3L528.1,2886.1V2904.5zM530.4,2914.5L546.2,2905.3V2923.7zM548.5,2933.7L564.3,2924.5V2942.9zM566.7,2953.0L582.5,2943.8V2962.2zM584.8,2972.2L600.6,2963.0V2981.4zM602.9,2992.0L618.7,2982.8V3001.2zM621.1,3008.8L636.9,2999.6V3018.0zM639.2,3025.5L655.0,3016.3V3034.7zM657.3,3040.6L673.1,3031.4V3049.8zM675.4,3055.7L691.2,3046.5V3064.9zM693.6,3069.1L709.4,3059.9V3078.3zM711.7,3082.5L727.5,3073.3V3091.7zM729.8,3094.2L745.6,3085.0V3103.4zM748.0,3106.6L763.8,3097.4V3115.8zM766.1,3116.9L781.9,3107.7V3126.1zM784.2,3127.7L800.0,3118.5V3136.9zM802.4,3137.7L818.1,3128.5V3146.9zM820.5,3147.1L836.3,3137.9V3156.3zM838.6,3156.1L854.4,3146.9V3165.3zM856.7,3163.8L872.5,3154.6V3173.0zM874.9,3171.2L890.7,3162.0V3180.4zM893.0,3177.9L908.8,3168.7V3187.1zM911.1,3183.9L926.9,3174.7V3193.1zM929.3,3188.6L945.1,3179.4V3197.8zM947.4,3192.3L963.2,3183.1V3201.5zM965.5,3194.6L981.3,3185.4V3203.8zM983.6,3195.6L999.4,3186.4V3204.8zM1001.8,3195.3L1017.6,3186.1V3204.5zM1019.9,3194.6L1035.7,3185.4V3203.8zM1038.0,3192.9L1053.8,3183.7V3202.1z"/>
</g>
<g clip-path="url(#cl5)">
<path fill="#000000" d="M174.9,3811.2h13.2v13.2h-13.2zM188.6,3792.7h13.2v13.2h-13.2zM206.8,3764.8h13.2v13.2h-13.2zM224.9,3735.4h13.2v13.2h-13.2zM243.0,3704.6h13.2v13.2h-13.2zM261.1,3674.5h13.2v13.2h-13.2zM279.3,3646.3h13.2v13.2h-13.2zM297.4,3622.3h13.2v13.2h-13.2zM315.5,3605.7h13.2v13.2h-13.2zM333.7,3595.1h13.2v13.2h-13.2zM351.8,3595.7h13.2v13.2h-13.2zM369.9,3603.1h13.2v13.2h-13.2zM388.1,3618.1h13.2v13.2h-13.2zM406.2,3635.1h13.2v13.2h-13.2zM424.3,3654.3h13.2v13.2h-13.2zM442.4,3671.9h13.2v13.2h-13.2zM460.6,3688.0h13.2v13.2h-13.2zM478.7,3701.4h13.2v13.2h-13.2zM496.8,3711.0h13.2v13.2h-13.2zM515.0,3720.0h13.2v13.2h-13.2zM533.1,3727.0h13.2v13.2h-13.2zM551.2,3732.2h13.2v13.2h-13.2zM569.4,3736.0h13.2v13.2h-13.2zM587.5,3740.8h13.2v13.2h-13.2zM605.6,3746.2h13.2v13.2h-13.2zM623.8,3751.1h13.2v13.2h-13.2zM641.9,3757.1h13.2v13.2h-13.2zM660.0,3764.5h13.2v13.2h-13.2zM678.1,3772.2h13.2v13.2h-13.2zM696.3,3781.2h13.2v13.2h-13.2zM714.4,3789.6h13.2v13.2h-13.2zM732.5,3798.6h13.2v13.2h-13.2zM750.7,3806.3h13.2v13.2h-13.2zM768.8,3813.7h13.2v13.2h-13.2zM786.9,3819.7h13.2v13.2h-13.2zM805.0,3825.8h13.2v13.2h-13.2zM823.2,3829.8h13.2v13.2h-13.2zM841.3,3833.1h13.2v13.2h-13.2zM859.4,3835.5h13.2v13.2h-13.2zM877.6,3836.5h13.2v13.2h-13.2zM895.7,3836.5h13.2v13.2h-13.2zM913.8,3834.1h13.2v13.2h-13.2zM932.0,3829.8h13.2v13.2h-13.2zM950.1,3823.1h13.2v13.2h-13.2zM968.2,3815.4h13.2v13.2h-13.2zM986.3,3807.3h13.2v13.2h-13.2zM1004.5,3794.6h13.2v13.2h-13.2zM1022.6,3777.2h13.2v13.2h-13.2zM1040.7,3754.4h13.2v13.2h-13.2z"/>
<path fill="#ff0000" d="M174.1,3873.9a7.45,7.45 0 1,0 14.9,0a7.45,7.45 0 1,0 -14.9,0zM187.8,3867.5a7.45,7.45 0 1,0 14.9,0a7.45,7.45 0 1,0 -14.9,0zM205.9,3854.7a7.45,7.45 0 1,0 14.9,0a7.45,7.45 0 1,0 -14.9,0zM224.0,3840.3a7.45,7.45 0 1,0 14.9,0a7.45,7.45 0 1,0 -14.9,0zM242.2,3820.1a7.45,7.45 0 1,0 14.9,0a7.45,7.45 0 1,0 -14.9,0zM260.3,3796.1a7.45,7.45 0 1,0 14.9,0a7.45,7.45 0 1,0 -14.9,0zM278.4,3767.6a7.45,7.45 0 1,0 14.9,0a7.45,7.45 0 1,0 -14.9,0zM296.6,3736.2a7.45,7.45 0 1,0 14.9,0a7.45,7.45 0 1,0 -14.9,0zM314.7,3704.2a7.45,7.45 0 1,0 14.9,0a7.45,7.45 0 1,0 -14.9,0zM332.8,3673.1a7.45,7.45 0 1,0 14.9,0a7.45,7.45 0 1,0 -14.9,0zM350.9,3644.0a7.45,7.45 0 1,0 14.9,0a7.45,7.45 0 1,0 -14.9,0zM369.1,3620.3a7.45,7.45 0 1,0 14.9,0a7.45,7.45 0 1,0 -14.9,0zM387.2,3602.7a7.45,7.45 0 1,0 14.9,0a7.45,7.45 0 1,0 -14.9,0zM405.3,3594.6a7.45,7.45 0 1,0 14.9,0a7.45,7.45 0 1,0 -14.9,0zM423.5,3594.3a7.45,7.45 0 1,0 14.9,0a7.45,7.45 0 1,0 -14.9,0zM441.6,3603.3a7.45,7.45 0 1,0 14.9,0a7.45,7.45 0 1,0 -14.9,0zM459.7,3617.7a7.45,7.45 0 1,0 14.9,0a7.45,7.45 0 1,0 -14.9,0zM477.9,3635.3a7.45,7.45 0 1,0 14.9,0a7.45,7.45 0 1,0 -14.9,0zM496.0,3653.9a7.45,7.45 0 1,0 14.9,0a7.45,7.45 0 1,0 -14.9,0zM514.1,3671.2a7.45,7.45 0 1,0 14.9,0a7.45,7.45 0 1,0 -14.9,0zM532.2,3687.2a7.45,7.45 0 1,0 14.9,0a7.45,7.45 0 1,0 -14.9,0zM550.4,3700.0a7.45,7.45 0 1,0 14.9,0a7.45,7.45 0 1,0 -14.9,0zM568.5,3710.6a7.45,7.45 0 1,0 14.9,0a7.45,7.45 0 1,0 -14.9,0zM586.6,3719.2a7.45,7.45 0 1,0 14.9,0a7.45,7.45 0 1,0 -14.9,0zM604.8,3726.6a7.45,7.45 0 1,0 14.9,0a7.45,7.45 0 1,0 -14.9,0zM622.9,3731.9a7.45,7.45 0 1,0 14.9,0a7.45,7.45 0 1,0 -14.9,0zM641.0,3738.6a7.45,7.45 0 1,0 14.9,0a7.45,7.45 0 1,0 -14.9,0zM659.2,3743.6a7.45,7.45 0 1,0 14.9,0a7.45,7.45 0 1,0 -14.9,0zM677.3,3750.3a7.45,7.45 0 1,0 14.9,0a7.45,7.45 0 1,0 -14.9,0zM695.4,3758.4a7.45,7.45 0 1,0 14.9,0a7.45,7.45 0 1,0 -14.9,0zM713.5,3766.7a7.45,7.45 0 1,0 14.9,0a7.45,7.45 0 1,0 -14.9,0zM731.7,3776.1a7.45,7.45 0 1,0 14.9,0a7.45,7.45 0 1,0 -14.9,0zM749.8,3785.5a7.45,7.45 0 1,0 14.9,0a7.45,7.45 0 1,0 -14.9,0zM767.9,3795.2a7.45,7.45 0 1,0 14.9,0a7.45,7.45 0 1,0 -14.9,0zM786.1,3803.9a7.45,7.45 0 1,0 14.9,0a7.45,7.45 0 1,0 -14.9,0zM804.2,3812.3a7.45,7.45 0 1,0 14.9,0a7.45,7.45 0 1,0 -14.9,0zM822.3,3819.6a7.45,7.45 0 1,0 14.9,0a7.45,7.45 0 1,0 -14.9,0zM840.5,3826.3a7.45,7.45 0 1,0 14.9,0a7.45,7.45 0 1,0 -14.9,0zM858.6,3831.3a7.45,7.45 0 1,0 14.9,0a7.45,7.45 0 1,0 -14.9,0zM876.7,3835.4a7.45,7.45 0 1,0 14.9,0a7.45,7.45 0 1,0 -14.9,0zM894.8,3838.0a7.45,7.45 0 1,0 14.9,0a7.45,7.45 0 1,0 -14.9,0zM913.0,3839.7a7.45,7.45 0 1,0 14.9,0a7.45,7.45 0 1,0 -14.9,0zM931.1,3839.7a7.45,7.45 0 1,0 14.9,0a7.45,7.45 0 1,0 -14.9,0zM949.2,3838.0a7.45,7.45 0 1,0 14.9,0a7.45,7.45 0 1,0 -14.9,0zM967.4,3834.7a7.45,7.45 0 1,0 14.9,0a7.45,7.45 0 1,0 -14.9,0zM985.5,3830.3a7.45,7.45 0 1,0 14.9,0a7.45,7.45 0 1,0 -14.9,0zM1003.6,3824.0a7.45,7.45 0 1,0 14.9,0a7.45,7.45 0 1,0 -14.9,0zM1021.8,3813.9a7.45,7.45 0 1,0 14.9,0a7.45,7.45 0 1,0 -14.9,0zM1039.9,3799.5a7.45,7.45 0 1,0 14.9,0a7.45,7.45 0 1,0 -14.9,0z"/>
<path fill="#0000ff" d="M181.5,3877.1L190.7,3893.1H172.3zM195.2,3877.1L204.4,3893.1H186.1zM213.4,3873.9L222.5,3889.9H204.2zM231.5,3869.1L240.6,3885.1H222.3zM249.6,3861.1L258.8,3877.1H240.5zM267.8,3849.9L276.9,3865.9H258.6zM285.9,3836.4L295.0,3852.4H276.7zM304.0,3817.9L313.2,3833.9H294.9zM322.1,3794.8L331.3,3810.8H313.0zM340.3,3766.0L349.4,3782.0H331.1zM358.4,3734.6L367.5,3750.6H349.2zM376.5,3701.0L385.7,3717.0H367.4zM394.7,3666.4L403.8,3682.4H385.5zM412.8,3635.3L421.9,3651.3H403.6zM430.9,3609.7L440.1,3625.7H421.8zM449.0,3588.9L458.2,3604.9H439.9zM467.2,3576.7L476.3,3592.7H458.0zM485.3,3573.8L494.5,3589.8H476.2zM503.4,3580.2L512.6,3596.2H494.3zM521.6,3592.1L530.7,3608.1H512.4zM539.7,3609.7L548.8,3625.7H530.5zM557.8,3628.9L567.0,3644.9H548.7zM576.0,3647.5L585.1,3663.5H566.8zM594.1,3664.1L603.2,3680.1H584.9zM612.2,3677.6L621.4,3693.6H603.1zM630.4,3689.4L639.5,3705.4H621.2zM648.5,3699.5L657.6,3715.5H639.3zM666.6,3707.2L675.8,3723.2H657.5zM684.7,3714.5L693.9,3730.5H675.6zM702.9,3722.2L712.0,3738.2H693.7zM721.0,3730.3L730.1,3746.3H711.9zM739.1,3738.6L748.3,3754.6H730.0zM757.3,3747.4L766.4,3763.4H748.1zM775.4,3757.4L784.5,3773.4H766.2zM793.5,3768.1L802.7,3784.1H784.4zM811.6,3778.2L820.8,3794.2H802.5zM829.8,3788.2L838.9,3804.2H820.6zM847.9,3797.2L857.1,3813.2H838.8zM866.0,3805.9L875.2,3821.9H856.9zM884.2,3812.6L893.3,3828.6H875.0zM902.3,3818.3L911.4,3834.3H893.1zM920.4,3823.3L929.6,3839.3H911.3zM938.6,3826.7L947.7,3842.7H929.4zM956.7,3829.4L965.8,3845.4H947.5zM974.8,3830.0L984.0,3846.0H965.7zM992.9,3829.4L1002.1,3845.4H983.8zM1011.1,3825.7L1020.2,3841.7H1001.9zM1029.2,3820.0L1038.4,3836.0H1020.1zM1047.3,3811.6L1056.5,3827.6H1038.2z"/>
<path fill="#ff00ff" d="M181.5,3904.6L190.7,3888.4H172.3zM195.2,3903.6L204.4,3887.4H186.1zM213.4,3902.4L222.5,3886.2H204.2zM231.5,3899.8L240.6,3883.6H222.3zM249.6,3897.2L258.8,3881.0H240.5zM267.8,3892.8L276.9,3876.6H258.6zM285.9,3888.2L295.0,3872.0H276.7zM304.0,3880.2L313.2,3864.0H294.9zM322.1,3868.6L331.3,3852.4H313.0zM340.3,3854.0L349.4,3837.8H331.1zM358.4,3832.4L367.5,3816.2H349.2zM376.5,3807.7L385.7,3791.5H367.4zM394.7,3777.9L403.8,3761.7H385.5zM412.8,3744.3L421.9,3728.1H403.6zM430.9,3708.4L440.1,3692.2H421.8zM449.0,3673.2L458.2,3657.0H439.9zM467.2,3641.2L476.3,3625.0H458.0zM485.3,3613.0L494.5,3596.8H476.2zM503.4,3593.8L512.6,3577.6H494.3zM521.6,3582.6L530.7,3566.4H512.4zM539.7,3579.4L548.8,3563.2H530.5zM557.8,3587.4L567.0,3571.2H548.7zM576.0,3601.8L585.1,3585.6H566.8zM594.1,3621.0L603.2,3604.8H584.9zM612.2,3640.2L621.4,3624.0H603.1zM630.4,3658.7L639.5,3642.5H621.2zM648.5,3675.4L657.6,3659.2H639.3zM666.6,3690.5L675.8,3674.3H657.5zM684.7,3702.9L693.9,3686.7H675.6zM702.9,3712.9L712.0,3696.7H693.7zM721.0,3722.3L730.1,3706.1H711.9zM739.1,3730.6L748.3,3714.4H730.0zM757.3,3738.3L766.4,3722.1H748.1zM775.4,3747.4L784.5,3731.2H766.2zM793.5,3756.4L802.7,3740.2H784.4zM811.6,3765.8L820.8,3749.6H802.5zM829.8,3776.5L838.9,3760.3H820.6zM847.9,3787.6L857.1,3771.4H838.8zM866.0,3799.3L875.2,3783.1H856.9zM884.2,3810.0L893.3,3793.8H875.0zM902.3,3819.4L911.4,3803.2H893.1zM920.4,3827.7L929.6,3811.5H911.3zM938.6,3834.4L947.7,3818.2H929.4zM956.7,3840.1L965.8,3823.9H947.5zM974.8,3844.5L984.0,3828.3H965.7zM992.9,3846.1L1002.1,3829.9H983.8zM1011.1,3846.1L1020.2,3829.9H1001.9zM1029.2,3842.8L1038.4,3826.6H1020.1zM1047.3,3837.8L1056.5,3821.6H1038.2z"/>
<path fill="#008000" d="M181.5,3887.1L191.1,3896.7L181.5,3906.3L171.9,3896.7zM195.2,3885.5L204.8,3895.1L195.2,3904.7L185.6,3895.1zM213.4,3883.9L223.0,3893.5L213.4,3903.1L203.8,3893.5zM231.5,3882.9L241.1,3892.5L231.5,3902.1L221.9,3892.5zM249.6,3881.7L259.2,3891.3L249.6,3900.9L240.0,3891.3zM267.8,3879.7L277.4,3889.3L267.8,3898.9L258.1,3889.3zM285.9,3877.5L295.5,3887.1L285.9,3896.7L276.3,3887.1zM304.0,3873.8L313.6,3883.4L304.0,3893.0L294.4,3883.4zM322.1,3870.0L331.7,3879.6L322.1,3889.2L312.5,3879.6zM340.3,3862.7L349.9,3872.3L340.3,3881.9L330.7,3872.3zM358.4,3852.4L368.0,3862.0L358.4,3871.6L348.8,3862.0zM376.5,3840.3L386.1,3849.9L376.5,3859.5L366.9,3849.9zM394.7,3823.3L404.3,3832.9L394.7,3842.5L385.1,3832.9zM412.8,3800.9L422.4,3810.5L412.8,3820.1L403.2,3810.5zM430.9,3772.1L440.5,3781.7L430.9,3791.3L421.3,3781.7zM449.0,3738.8L458.6,3748.4L449.0,3758.0L439.4,3748.4zM467.2,3701.0L476.8,3710.6L467.2,3720.2L457.6,3710.6zM485.3,3663.2L494.9,3672.8L485.3,3682.4L475.7,3672.8zM503.4,3627.3L513.0,3636.9L503.4,3646.5L493.8,3636.9zM521.6,3595.3L531.2,3604.9L521.6,3614.5L512.0,3604.9zM539.7,3570.6L549.3,3580.2L539.7,3589.8L530.1,3580.2zM557.8,3553.0L567.4,3562.6L557.8,3572.2L548.2,3562.6zM576.0,3545.7L585.6,3555.3L576.0,3564.9L566.4,3555.3zM594.1,3548.9L603.7,3558.5L594.1,3568.1L584.5,3558.5zM612.2,3560.1L621.8,3569.7L612.2,3579.3L602.6,3569.7zM630.4,3577.4L640.0,3587.0L630.4,3596.6L620.8,3587.0zM648.5,3599.1L658.1,3608.7L648.5,3618.3L638.9,3608.7zM666.6,3619.2L676.2,3628.8L666.6,3638.4L657.0,3628.8zM684.7,3639.3L694.3,3648.9L684.7,3658.5L675.1,3648.9zM702.9,3656.0L712.5,3665.6L702.9,3675.2L693.3,3665.6zM721.0,3669.4L730.6,3679.0L721.0,3688.6L711.4,3679.0zM739.1,3681.1L748.7,3690.7L739.1,3700.3L729.5,3690.7zM757.3,3691.2L766.9,3700.8L757.3,3710.4L747.7,3700.8zM775.4,3699.6L785.0,3709.2L775.4,3718.8L765.8,3709.2zM793.5,3707.9L803.1,3717.5L793.5,3727.1L783.9,3717.5zM811.6,3717.0L821.2,3726.6L811.6,3736.2L802.0,3726.6zM829.8,3727.3L839.4,3736.9L829.8,3746.5L820.2,3736.9zM847.9,3738.7L857.5,3748.3L847.9,3757.9L838.3,3748.3zM866.0,3749.8L875.6,3759.4L866.0,3769.0L856.4,3759.4zM884.2,3763.2L893.8,3772.8L884.2,3782.4L874.6,3772.8zM902.3,3775.5L911.9,3785.1L902.3,3794.7L892.7,3785.1zM920.4,3786.6L930.0,3796.2L920.4,3805.8L910.8,3796.2zM938.6,3797.6L948.2,3807.2L938.6,3816.8L929.0,3807.2zM956.7,3806.7L966.3,3816.3L956.7,3825.9L947.1,3816.3zM974.8,3814.4L984.4,3824.0L974.8,3833.6L965.2,3824.0zM992.9,3821.1L1002.5,3830.7L992.9,3840.3L983.3,3830.7zM1011.1,3825.1L1020.7,3834.7L1011.1,3844.3L1001.5,3834.7zM1029.2,3827.8L1038.8,3837.4L1029.2,3847.0L1019.6,3837.4zM1047.3,3828.4L1056.9,3838.0L1047.3,3847.6L1037.7,3838.0z"/>
<path fill="#000080" d="M172.2,3897.3L188.0,3888.1V3906.5zM185.9,3896.7L201.7,3887.5V3905.9zM204.1,3895.7L219.9,3886.5V3904.9zM222.2,3894.7L238.0,3885.5V3903.9zM240.3,3894.1L256.1,3884.9V3903.3zM258.4,3893.5L274.2,3884.3V3902.7zM276.6,3892.5L292.4,3883.3V3901.7zM294.7,3890.9L310.5,3881.7V3900.1zM312.8,3888.3L328.6,3879.1V3897.5zM331.0,3886.1L346.8,3876.9V3895.3zM349.1,3881.3L364.9,3872.1V3890.5zM367.2,3874.5L383.0,3865.3V3883.7zM385.4,3864.9L401.2,3855.7V3874.1zM403.5,3853.1L419.3,3843.9V3862.3zM421.6,3837.1L437.4,3827.9V3846.3zM439.7,3815.6L455.5,3806.4V3824.8zM457.9,3788.1L473.7,3778.9V3797.3zM476.0,3753.8L491.8,3744.6V3763.0zM494.1,3716.3L509.9,3707.1V3725.5zM512.3,3675.3L528.1,3666.1V3684.5zM530.4,3636.0L546.2,3626.8V3645.2zM548.5,3601.0L564.3,3591.8V3610.2zM566.7,3571.9L582.5,3562.7V3581.1zM584.8,3551.1L600.6,3541.9V3560.3zM602.9,3539.2L618.7,3530.0V3548.4zM621.1,3540.8L636.9,3531.6V3550.0zM639.2,3550.1L655.0,3540.9V3559.3zM657.3,3566.9L673.1,3557.7V3576.1zM675.4,3588.6L691.2,3579.4V3597.8zM693.6,3611.1L709.4,3601.9V3620.3zM711.7,3632.2L727.5,3623.0V3641.4zM729.8,3652.2L745.6,3643.0V3661.4zM748.0,3667.3L763.8,3658.1V3676.5zM766.1,3680.0L781.9,3670.8V3689.2zM784.2,3690.7L800.0,3681.5V3699.9zM802.4,3700.8L818.1,3691.6V3710.0zM820.5,3709.2L836.3,3700.0V3718.4zM838.6,3719.2L854.4,3710.0V3728.4zM856.7,3729.2L872.5,3720.0V3738.4zM874.9,3741.0L890.7,3731.8V3750.2zM893.0,3754.3L908.8,3745.1V3763.5zM911.1,3767.7L926.9,3758.5V3776.9zM929.3,3780.5L945.1,3771.3V3789.7zM947.4,3793.9L963.2,3784.7V3803.1zM965.5,3806.2L981.3,3797.0V3815.4zM983.6,3816.3L999.4,3807.1V3825.5zM1001.8,3824.7L1017.6,3815.5V3833.9zM1019.9,3830.7L1035.7,3821.5V3839.9zM1038.0,3834.0L1053.8,3824.8V3843.2z"/>
</g>
<rect x="181.5" y="29.0" width="870.0" height="645.0" fill="none" stroke="#000" stroke-width="3.6"/><rect x="1231.5" y="17.5" width="890.5" height="650.9" fill="none" stroke="#000" stroke-width="4"/><rect x="181.5" y="674.0" width="870.0" height="645.0" fill="none" stroke="#000" stroke-width="3.6"/><rect x="1231.5" y="668.4" width="890.5" height="650.9" fill="none" stroke="#000" stroke-width="4"/><rect x="181.5" y="1319.0" width="870.0" height="645.0" fill="none" stroke="#000" stroke-width="3.6"/><rect x="1231.5" y="1319.3" width="890.5" height="650.9" fill="none" stroke="#000" stroke-width="4"/><rect x="181.5" y="1964.0" width="870.0" height="645.0" fill="none" stroke="#000" stroke-width="3.6"/><rect x="1231.5" y="1970.2" width="890.5" height="650.9" fill="none" stroke="#000" stroke-width="4"/><rect x="181.5" y="2609.0" width="870.0" height="645.0" fill="none" stroke="#000" stroke-width="3.6"/><rect x="1231.5" y="2621.1" width="890.5" height="650.9" fill="none" stroke="#000" stroke-width="4"/><rect x="181.5" y="3254.0" width="870.0" height="645.0" fill="none" stroke="#000" stroke-width="3.6"/><rect x="1231.5" y="3272.0" width="890.5" height="650.9" fill="none" stroke="#000" stroke-width="4"/>
<path d="M1231.5,15.5V3924.8999999999996" stroke="#000" stroke-width="5.2"/>
</svg></body></html>
